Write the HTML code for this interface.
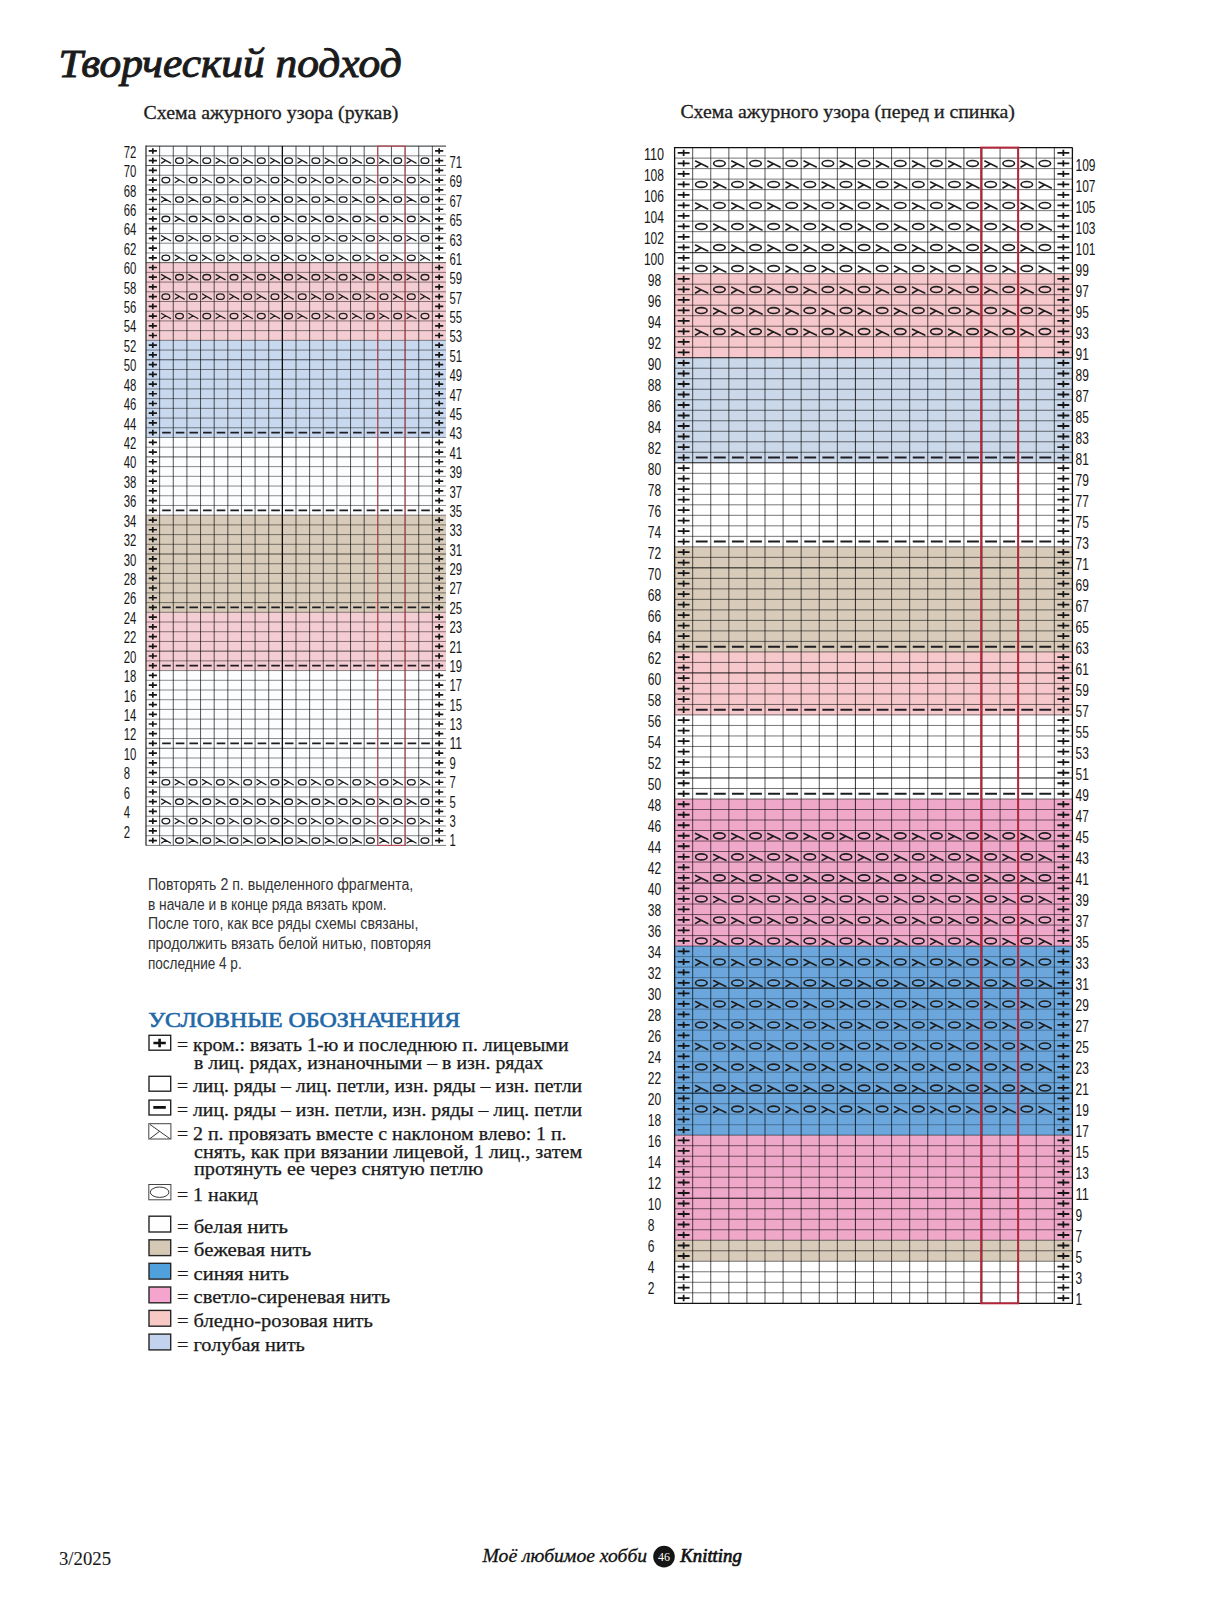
<!DOCTYPE html><html><head><meta charset="utf-8"><title>Творческий подход</title>
<style>html,body{margin:0;padding:0;background:#fff;}svg{display:block;}.sf{font-family:"Liberation Serif", "DejaVu Serif", serif;}.ss{font-family:"Liberation Sans", "DejaVu Sans", sans-serif;}</style></head><body>
<svg width="1211" height="1624" viewBox="0 0 1211 1624">
<rect width="1211" height="1624" fill="#fff"/>
<text class="sf" x="58.6" y="77.4" font-size="40" font-style="italic" fill="#1b1b1b" stroke="#1b1b1b" stroke-width="1.0" textLength="343" lengthAdjust="spacingAndGlyphs">Творческий подход</text>
<text class="sf" x="143.6" y="118.6" font-size="18.5" fill="#1e1e1e" stroke="#1e1e1e" stroke-width="0.3" textLength="254.8" lengthAdjust="spacingAndGlyphs">Схема ажурного узора (рукав)</text>
<text class="sf" x="680.4" y="118.4" font-size="18.5" fill="#1e1e1e" stroke="#1e1e1e" stroke-width="0.3" textLength="334.4" lengthAdjust="spacingAndGlyphs">Схема ажурного узора (перед и спинка)</text>
<rect x="159.64" y="146.1" width="272.73" height="116.55" fill="#fcfdff"/>
<rect x="146" y="262.65" width="300" height="77.7" fill="#f4cdd2"/>
<rect x="146" y="340.35" width="300" height="97.12" fill="#c8d8ee"/>
<rect x="159.64" y="437.47" width="272.73" height="77.7" fill="#fcfdff"/>
<rect x="146" y="515.17" width="300" height="97.12" fill="#d8cbba"/>
<rect x="146" y="612.3" width="300" height="58.27" fill="#f4cdd2"/>
<rect x="159.64" y="670.57" width="272.73" height="174.82" fill="#fcfdff"/>
<path d="M159.64 146.1V845.4M173.27 146.1V845.4M186.91 146.1V845.4M200.55 146.1V845.4M214.18 146.1V845.4M227.82 146.1V845.4M241.45 146.1V845.4M255.09 146.1V845.4M268.73 146.1V845.4M296 146.1V845.4M309.64 146.1V845.4M323.27 146.1V845.4M336.91 146.1V845.4M350.55 146.1V845.4M364.18 146.1V845.4M377.82 146.1V845.4M391.45 146.1V845.4M405.09 146.1V845.4M418.73 146.1V845.4M432.36 146.1V845.4" stroke="#000" stroke-opacity="0.78" stroke-width="0.85" fill="none"/>
<path d="M146 835.69H446M146 825.98H446M146 816.26H446M146 806.55H446M146 796.84H446M146 787.12H446M146 777.41H446M146 767.7H446M146 757.99H446M146 738.56H446M146 728.85H446M146 719.14H446M146 709.42H446M146 699.71H446M146 690H446M146 680.29H446M146 670.58H446M146 660.86H446M146 641.44H446M146 631.73H446M146 622.01H446M146 612.3H446M146 602.59H446M146 592.88H446M146 583.16H446M146 573.45H446M146 563.74H446M146 544.31H446M146 534.6H446M146 524.89H446M146 515.17H446M146 505.46H446M146 495.75H446M146 486.04H446M146 476.33H446M146 466.61H446M146 447.19H446M146 437.48H446M146 427.76H446M146 418.05H446M146 408.34H446M146 398.63H446M146 388.91H446M146 379.2H446M146 369.49H446M146 350.06H446M146 340.35H446M146 330.64H446M146 320.93H446M146 311.21H446M146 301.5H446M146 291.79H446M146 282.08H446M146 272.36H446M146 252.94H446M146 243.23H446M146 233.51H446M146 223.8H446M146 214.09H446M146 204.38H446M146 194.66H446M146 184.95H446M146 175.24H446M146 155.81H446" stroke="#000" stroke-opacity="0.58" stroke-width="0.8" fill="none"/>
<path d="M282.36 146.1V845.4" stroke="#000" stroke-opacity="0.95" stroke-width="1.3" fill="none"/>
<path d="M146 748.27H446M146 651.15H446M146 554.03H446M146 456.9H446M146 359.78H446M146 262.65H446M146 165.53H446" stroke="#000" stroke-opacity="0.72" stroke-width="0.9" fill="none"/>
<path d="M446 146.1H146" stroke="#000" stroke-opacity="0.68" stroke-width="1.1" fill="none"/>
<path d="M146 145.55V845.4" stroke="#222" stroke-width="1.2" fill="none"/>
<path d="M146 845.4H446" stroke="#000" stroke-opacity="0.6" stroke-width="0.9" fill="none"/>
<path d="M148.72 840.54h8.2M152.82 837.74v5.6M435.08 840.54h8.2M439.18 837.74v5.6M148.72 830.83h8.2M152.82 828.03v5.6M435.08 830.83h8.2M439.18 828.03v5.6M148.72 821.12h8.2M152.82 818.32v5.6M435.08 821.12h8.2M439.18 818.32v5.6M148.72 811.41h8.2M152.82 808.61v5.6M435.08 811.41h8.2M439.18 808.61v5.6M148.72 801.69h8.2M152.82 798.89v5.6M435.08 801.69h8.2M439.18 798.89v5.6M148.72 791.98h8.2M152.82 789.18v5.6M435.08 791.98h8.2M439.18 789.18v5.6M148.72 782.27h8.2M152.82 779.47v5.6M435.08 782.27h8.2M439.18 779.47v5.6M148.72 772.56h8.2M152.82 769.76v5.6M435.08 772.56h8.2M439.18 769.76v5.6M148.72 762.84h8.2M152.82 760.04v5.6M435.08 762.84h8.2M439.18 760.04v5.6M148.72 753.13h8.2M152.82 750.33v5.6M435.08 753.13h8.2M439.18 750.33v5.6M148.72 743.42h8.2M152.82 740.62v5.6M435.08 743.42h8.2M439.18 740.62v5.6M148.72 733.71h8.2M152.82 730.91v5.6M435.08 733.71h8.2M439.18 730.91v5.6M148.72 723.99h8.2M152.82 721.19v5.6M435.08 723.99h8.2M439.18 721.19v5.6M148.72 714.28h8.2M152.82 711.48v5.6M435.08 714.28h8.2M439.18 711.48v5.6M148.72 704.57h8.2M152.82 701.77v5.6M435.08 704.57h8.2M439.18 701.77v5.6M148.72 694.86h8.2M152.82 692.06v5.6M435.08 694.86h8.2M439.18 692.06v5.6M148.72 685.14h8.2M152.82 682.34v5.6M435.08 685.14h8.2M439.18 682.34v5.6M148.72 675.43h8.2M152.82 672.63v5.6M435.08 675.43h8.2M439.18 672.63v5.6M148.72 665.72h8.2M152.82 662.92v5.6M435.08 665.72h8.2M439.18 662.92v5.6M148.72 656.01h8.2M152.82 653.21v5.6M435.08 656.01h8.2M439.18 653.21v5.6M148.72 646.29h8.2M152.82 643.49v5.6M435.08 646.29h8.2M439.18 643.49v5.6M148.72 636.58h8.2M152.82 633.78v5.6M435.08 636.58h8.2M439.18 633.78v5.6M148.72 626.87h8.2M152.82 624.07v5.6M435.08 626.87h8.2M439.18 624.07v5.6M148.72 617.16h8.2M152.82 614.36v5.6M435.08 617.16h8.2M439.18 614.36v5.6M148.72 607.44h8.2M152.82 604.64v5.6M435.08 607.44h8.2M439.18 604.64v5.6M148.72 597.73h8.2M152.82 594.93v5.6M435.08 597.73h8.2M439.18 594.93v5.6M148.72 588.02h8.2M152.82 585.22v5.6M435.08 588.02h8.2M439.18 585.22v5.6M148.72 578.31h8.2M152.82 575.51v5.6M435.08 578.31h8.2M439.18 575.51v5.6M148.72 568.59h8.2M152.82 565.79v5.6M435.08 568.59h8.2M439.18 565.79v5.6M148.72 558.88h8.2M152.82 556.08v5.6M435.08 558.88h8.2M439.18 556.08v5.6M148.72 549.17h8.2M152.82 546.37v5.6M435.08 549.17h8.2M439.18 546.37v5.6M148.72 539.46h8.2M152.82 536.66v5.6M435.08 539.46h8.2M439.18 536.66v5.6M148.72 529.74h8.2M152.82 526.94v5.6M435.08 529.74h8.2M439.18 526.94v5.6M148.72 520.03h8.2M152.82 517.23v5.6M435.08 520.03h8.2M439.18 517.23v5.6M148.72 510.32h8.2M152.82 507.52v5.6M435.08 510.32h8.2M439.18 507.52v5.6M148.72 500.61h8.2M152.82 497.81v5.6M435.08 500.61h8.2M439.18 497.81v5.6M148.72 490.89h8.2M152.82 488.09v5.6M435.08 490.89h8.2M439.18 488.09v5.6M148.72 481.18h8.2M152.82 478.38v5.6M435.08 481.18h8.2M439.18 478.38v5.6M148.72 471.47h8.2M152.82 468.67v5.6M435.08 471.47h8.2M439.18 468.67v5.6M148.72 461.76h8.2M152.82 458.96v5.6M435.08 461.76h8.2M439.18 458.96v5.6M148.72 452.04h8.2M152.82 449.24v5.6M435.08 452.04h8.2M439.18 449.24v5.6M148.72 442.33h8.2M152.82 439.53v5.6M435.08 442.33h8.2M439.18 439.53v5.6M148.72 432.62h8.2M152.82 429.82v5.6M435.08 432.62h8.2M439.18 429.82v5.6M148.72 422.91h8.2M152.82 420.11v5.6M435.08 422.91h8.2M439.18 420.11v5.6M148.72 413.19h8.2M152.82 410.39v5.6M435.08 413.19h8.2M439.18 410.39v5.6M148.72 403.48h8.2M152.82 400.68v5.6M435.08 403.48h8.2M439.18 400.68v5.6M148.72 393.77h8.2M152.82 390.97v5.6M435.08 393.77h8.2M439.18 390.97v5.6M148.72 384.06h8.2M152.82 381.26v5.6M435.08 384.06h8.2M439.18 381.26v5.6M148.72 374.34h8.2M152.82 371.54v5.6M435.08 374.34h8.2M439.18 371.54v5.6M148.72 364.63h8.2M152.82 361.83v5.6M435.08 364.63h8.2M439.18 361.83v5.6M148.72 354.92h8.2M152.82 352.12v5.6M435.08 354.92h8.2M439.18 352.12v5.6M148.72 345.21h8.2M152.82 342.41v5.6M435.08 345.21h8.2M439.18 342.41v5.6M148.72 335.49h8.2M152.82 332.69v5.6M435.08 335.49h8.2M439.18 332.69v5.6M148.72 325.78h8.2M152.82 322.98v5.6M435.08 325.78h8.2M439.18 322.98v5.6M148.72 316.07h8.2M152.82 313.27v5.6M435.08 316.07h8.2M439.18 313.27v5.6M148.72 306.36h8.2M152.82 303.56v5.6M435.08 306.36h8.2M439.18 303.56v5.6M148.72 296.64h8.2M152.82 293.84v5.6M435.08 296.64h8.2M439.18 293.84v5.6M148.72 286.93h8.2M152.82 284.13v5.6M435.08 286.93h8.2M439.18 284.13v5.6M148.72 277.22h8.2M152.82 274.42v5.6M435.08 277.22h8.2M439.18 274.42v5.6M148.72 267.51h8.2M152.82 264.71v5.6M435.08 267.51h8.2M439.18 264.71v5.6M148.72 257.79h8.2M152.82 254.99v5.6M435.08 257.79h8.2M439.18 254.99v5.6M148.72 248.08h8.2M152.82 245.28v5.6M435.08 248.08h8.2M439.18 245.28v5.6M148.72 238.37h8.2M152.82 235.57v5.6M435.08 238.37h8.2M439.18 235.57v5.6M148.72 228.66h8.2M152.82 225.86v5.6M435.08 228.66h8.2M439.18 225.86v5.6M148.72 218.94h8.2M152.82 216.14v5.6M435.08 218.94h8.2M439.18 216.14v5.6M148.72 209.23h8.2M152.82 206.43v5.6M435.08 209.23h8.2M439.18 206.43v5.6M148.72 199.52h8.2M152.82 196.72v5.6M435.08 199.52h8.2M439.18 196.72v5.6M148.72 189.81h8.2M152.82 187.01v5.6M435.08 189.81h8.2M439.18 187.01v5.6M148.72 180.09h8.2M152.82 177.29v5.6M435.08 180.09h8.2M439.18 177.29v5.6M148.72 170.38h8.2M152.82 167.58v5.6M435.08 170.38h8.2M439.18 167.58v5.6M148.72 160.67h8.2M152.82 157.87v5.6M435.08 160.67h8.2M439.18 157.87v5.6M148.72 150.96h8.2M152.82 148.16v5.6M435.08 150.96h8.2M439.18 148.16v5.6" stroke="#161616" stroke-width="1.7" fill="none"/>
<path d="M162.15 743.42h8.6M175.79 743.42h8.6M189.43 743.42h8.6M203.06 743.42h8.6M216.7 743.42h8.6M230.34 743.42h8.6M243.97 743.42h8.6M257.61 743.42h8.6M271.25 743.42h8.6M284.88 743.42h8.6M298.52 743.42h8.6M312.15 743.42h8.6M325.79 743.42h8.6M339.43 743.42h8.6M353.06 743.42h8.6M366.7 743.42h8.6M380.34 743.42h8.6M393.97 743.42h8.6M407.61 743.42h8.6M421.25 743.42h8.6M162.15 665.72h8.6M175.79 665.72h8.6M189.43 665.72h8.6M203.06 665.72h8.6M216.7 665.72h8.6M230.34 665.72h8.6M243.97 665.72h8.6M257.61 665.72h8.6M271.25 665.72h8.6M284.88 665.72h8.6M298.52 665.72h8.6M312.15 665.72h8.6M325.79 665.72h8.6M339.43 665.72h8.6M353.06 665.72h8.6M366.7 665.72h8.6M380.34 665.72h8.6M393.97 665.72h8.6M407.61 665.72h8.6M421.25 665.72h8.6M162.15 607.44h8.6M175.79 607.44h8.6M189.43 607.44h8.6M203.06 607.44h8.6M216.7 607.44h8.6M230.34 607.44h8.6M243.97 607.44h8.6M257.61 607.44h8.6M271.25 607.44h8.6M284.88 607.44h8.6M298.52 607.44h8.6M312.15 607.44h8.6M325.79 607.44h8.6M339.43 607.44h8.6M353.06 607.44h8.6M366.7 607.44h8.6M380.34 607.44h8.6M393.97 607.44h8.6M407.61 607.44h8.6M421.25 607.44h8.6M162.15 510.32h8.6M175.79 510.32h8.6M189.43 510.32h8.6M203.06 510.32h8.6M216.7 510.32h8.6M230.34 510.32h8.6M243.97 510.32h8.6M257.61 510.32h8.6M271.25 510.32h8.6M284.88 510.32h8.6M298.52 510.32h8.6M312.15 510.32h8.6M325.79 510.32h8.6M339.43 510.32h8.6M353.06 510.32h8.6M366.7 510.32h8.6M380.34 510.32h8.6M393.97 510.32h8.6M407.61 510.32h8.6M421.25 510.32h8.6M162.15 432.62h8.6M175.79 432.62h8.6M189.43 432.62h8.6M203.06 432.62h8.6M216.7 432.62h8.6M230.34 432.62h8.6M243.97 432.62h8.6M257.61 432.62h8.6M271.25 432.62h8.6M284.88 432.62h8.6M298.52 432.62h8.6M312.15 432.62h8.6M325.79 432.62h8.6M339.43 432.62h8.6M353.06 432.62h8.6M366.7 432.62h8.6M380.34 432.62h8.6M393.97 432.62h8.6M407.61 432.62h8.6M421.25 432.62h8.6" stroke="#1c1c22" stroke-width="1.7" fill="none"/>
<path d="M161.55 837.92L170.55 842.97M165.78 840.3L161.55 842.97M188.82 837.92L197.82 842.97M193.05 840.3L188.82 842.97M216.09 837.92L225.09 842.97M220.32 840.3L216.09 842.97M243.36 837.92L252.36 842.97M247.59 840.3L243.36 842.97M270.64 837.92L279.64 842.97M274.87 840.3L270.64 842.97M297.91 837.92L306.91 842.97M302.14 840.3L297.91 842.97M325.18 837.92L334.18 842.97M329.41 840.3L325.18 842.97M352.45 837.92L361.45 842.97M356.68 840.3L352.45 842.97M379.73 837.92L388.73 842.97M383.96 840.3L379.73 842.97M407 837.92L416 842.97M411.23 840.3L407 842.97M175.18 818.5L184.18 823.55M179.41 820.87L175.18 823.55M202.45 818.5L211.45 823.55M206.68 820.87L202.45 823.55M229.73 818.5L238.73 823.55M233.96 820.87L229.73 823.55M257 818.5L266 823.55M261.23 820.87L257 823.55M284.27 818.5L293.27 823.55M288.5 820.87L284.27 823.55M311.55 818.5L320.55 823.55M315.78 820.87L311.55 823.55M338.82 818.5L347.82 823.55M343.05 820.87L338.82 823.55M366.09 818.5L375.09 823.55M370.32 820.87L366.09 823.55M393.36 818.5L402.36 823.55M397.59 820.87L393.36 823.55M420.64 818.5L429.64 823.55M424.87 820.87L420.64 823.55M161.55 799.07L170.55 804.12M165.78 801.45L161.55 804.12M188.82 799.07L197.82 804.12M193.05 801.45L188.82 804.12M216.09 799.07L225.09 804.12M220.32 801.45L216.09 804.12M243.36 799.07L252.36 804.12M247.59 801.45L243.36 804.12M270.64 799.07L279.64 804.12M274.87 801.45L270.64 804.12M297.91 799.07L306.91 804.12M302.14 801.45L297.91 804.12M325.18 799.07L334.18 804.12M329.41 801.45L325.18 804.12M352.45 799.07L361.45 804.12M356.68 801.45L352.45 804.12M379.73 799.07L388.73 804.12M383.96 801.45L379.73 804.12M407 799.07L416 804.12M411.23 801.45L407 804.12M175.18 779.65L184.18 784.7M179.41 782.02L175.18 784.7M202.45 779.65L211.45 784.7M206.68 782.02L202.45 784.7M229.73 779.65L238.73 784.7M233.96 782.02L229.73 784.7M257 779.65L266 784.7M261.23 782.02L257 784.7M284.27 779.65L293.27 784.7M288.5 782.02L284.27 784.7M311.55 779.65L320.55 784.7M315.78 782.02L311.55 784.7M338.82 779.65L347.82 784.7M343.05 782.02L338.82 784.7M366.09 779.65L375.09 784.7M370.32 782.02L366.09 784.7M393.36 779.65L402.36 784.7M397.59 782.02L393.36 784.7M420.64 779.65L429.64 784.7M424.87 782.02L420.64 784.7M161.55 313.45L170.55 318.5M165.78 315.82L161.55 318.5M188.82 313.45L197.82 318.5M193.05 315.82L188.82 318.5M216.09 313.45L225.09 318.5M220.32 315.82L216.09 318.5M243.36 313.45L252.36 318.5M247.59 315.82L243.36 318.5M270.64 313.45L279.64 318.5M274.87 315.82L270.64 318.5M297.91 313.45L306.91 318.5M302.14 315.82L297.91 318.5M325.18 313.45L334.18 318.5M329.41 315.82L325.18 318.5M352.45 313.45L361.45 318.5M356.68 315.82L352.45 318.5M379.73 313.45L388.73 318.5M383.96 315.82L379.73 318.5M407 313.45L416 318.5M411.23 315.82L407 318.5M175.18 294.02L184.18 299.07M179.41 296.4L175.18 299.07M202.45 294.02L211.45 299.07M206.68 296.4L202.45 299.07M229.73 294.02L238.73 299.07M233.96 296.4L229.73 299.07M257 294.02L266 299.07M261.23 296.4L257 299.07M284.27 294.02L293.27 299.07M288.5 296.4L284.27 299.07M311.55 294.02L320.55 299.07M315.78 296.4L311.55 299.07M338.82 294.02L347.82 299.07M343.05 296.4L338.82 299.07M366.09 294.02L375.09 299.07M370.32 296.4L366.09 299.07M393.36 294.02L402.36 299.07M397.59 296.4L393.36 299.07M420.64 294.02L429.64 299.07M424.87 296.4L420.64 299.07M161.55 274.6L170.55 279.65M165.78 276.97L161.55 279.65M188.82 274.6L197.82 279.65M193.05 276.97L188.82 279.65M216.09 274.6L225.09 279.65M220.32 276.97L216.09 279.65M243.36 274.6L252.36 279.65M247.59 276.97L243.36 279.65M270.64 274.6L279.64 279.65M274.87 276.97L270.64 279.65M297.91 274.6L306.91 279.65M302.14 276.97L297.91 279.65M325.18 274.6L334.18 279.65M329.41 276.97L325.18 279.65M352.45 274.6L361.45 279.65M356.68 276.97L352.45 279.65M379.73 274.6L388.73 279.65M383.96 276.97L379.73 279.65M407 274.6L416 279.65M411.23 276.97L407 279.65M175.18 255.17L184.18 260.22M179.41 257.55L175.18 260.22M202.45 255.17L211.45 260.22M206.68 257.55L202.45 260.22M229.73 255.17L238.73 260.22M233.96 257.55L229.73 260.22M257 255.17L266 260.22M261.23 257.55L257 260.22M284.27 255.17L293.27 260.22M288.5 257.55L284.27 260.22M311.55 255.17L320.55 260.22M315.78 257.55L311.55 260.22M338.82 255.17L347.82 260.22M343.05 257.55L338.82 260.22M366.09 255.17L375.09 260.22M370.32 257.55L366.09 260.22M393.36 255.17L402.36 260.22M397.59 257.55L393.36 260.22M420.64 255.17L429.64 260.22M424.87 257.55L420.64 260.22M161.55 235.75L170.55 240.8M165.78 238.12L161.55 240.8M188.82 235.75L197.82 240.8M193.05 238.12L188.82 240.8M216.09 235.75L225.09 240.8M220.32 238.12L216.09 240.8M243.36 235.75L252.36 240.8M247.59 238.12L243.36 240.8M270.64 235.75L279.64 240.8M274.87 238.12L270.64 240.8M297.91 235.75L306.91 240.8M302.14 238.12L297.91 240.8M325.18 235.75L334.18 240.8M329.41 238.12L325.18 240.8M352.45 235.75L361.45 240.8M356.68 238.12L352.45 240.8M379.73 235.75L388.73 240.8M383.96 238.12L379.73 240.8M407 235.75L416 240.8M411.23 238.12L407 240.8M175.18 216.32L184.18 221.37M179.41 218.7L175.18 221.37M202.45 216.32L211.45 221.37M206.68 218.7L202.45 221.37M229.73 216.32L238.73 221.37M233.96 218.7L229.73 221.37M257 216.32L266 221.37M261.23 218.7L257 221.37M284.27 216.32L293.27 221.37M288.5 218.7L284.27 221.37M311.55 216.32L320.55 221.37M315.78 218.7L311.55 221.37M338.82 216.32L347.82 221.37M343.05 218.7L338.82 221.37M366.09 216.32L375.09 221.37M370.32 218.7L366.09 221.37M393.36 216.32L402.36 221.37M397.59 218.7L393.36 221.37M420.64 216.32L429.64 221.37M424.87 218.7L420.64 221.37M161.55 196.9L170.55 201.95M165.78 199.27L161.55 201.95M188.82 196.9L197.82 201.95M193.05 199.27L188.82 201.95M216.09 196.9L225.09 201.95M220.32 199.27L216.09 201.95M243.36 196.9L252.36 201.95M247.59 199.27L243.36 201.95M270.64 196.9L279.64 201.95M274.87 199.27L270.64 201.95M297.91 196.9L306.91 201.95M302.14 199.27L297.91 201.95M325.18 196.9L334.18 201.95M329.41 199.27L325.18 201.95M352.45 196.9L361.45 201.95M356.68 199.27L352.45 201.95M379.73 196.9L388.73 201.95M383.96 199.27L379.73 201.95M407 196.9L416 201.95M411.23 199.27L407 201.95M175.18 177.47L184.18 182.52M179.41 179.85L175.18 182.52M202.45 177.47L211.45 182.52M206.68 179.85L202.45 182.52M229.73 177.47L238.73 182.52M233.96 179.85L229.73 182.52M257 177.47L266 182.52M261.23 179.85L257 182.52M284.27 177.47L293.27 182.52M288.5 179.85L284.27 182.52M311.55 177.47L320.55 182.52M315.78 179.85L311.55 182.52M338.82 177.47L347.82 182.52M343.05 179.85L338.82 182.52M366.09 177.47L375.09 182.52M370.32 179.85L366.09 182.52M393.36 177.47L402.36 182.52M397.59 179.85L393.36 182.52M420.64 177.47L429.64 182.52M424.87 179.85L420.64 182.52M161.55 158.05L170.55 163.1M165.78 160.42L161.55 163.1M188.82 158.05L197.82 163.1M193.05 160.42L188.82 163.1M216.09 158.05L225.09 163.1M220.32 160.42L216.09 163.1M243.36 158.05L252.36 163.1M247.59 160.42L243.36 163.1M270.64 158.05L279.64 163.1M274.87 160.42L270.64 163.1M297.91 158.05L306.91 163.1M302.14 160.42L297.91 163.1M325.18 158.05L334.18 163.1M329.41 160.42L325.18 163.1M352.45 158.05L361.45 163.1M356.68 160.42L352.45 163.1M379.73 158.05L388.73 163.1M383.96 160.42L379.73 163.1M407 158.05L416 163.1M411.23 160.42L407 163.1" stroke="#1e1e1e" stroke-width="1.3" fill="none" stroke-linecap="round"/>
<g stroke="#1e1e1e" stroke-width="1.3" fill="none"><ellipse cx="179.49" cy="840.54" rx="3.9" ry="2.7"/><ellipse cx="206.76" cy="840.54" rx="3.9" ry="2.7"/><ellipse cx="234.04" cy="840.54" rx="3.9" ry="2.7"/><ellipse cx="261.31" cy="840.54" rx="3.9" ry="2.7"/><ellipse cx="288.58" cy="840.54" rx="3.9" ry="2.7"/><ellipse cx="315.85" cy="840.54" rx="3.9" ry="2.7"/><ellipse cx="343.13" cy="840.54" rx="3.9" ry="2.7"/><ellipse cx="370.4" cy="840.54" rx="3.9" ry="2.7"/><ellipse cx="397.67" cy="840.54" rx="3.9" ry="2.7"/><ellipse cx="424.95" cy="840.54" rx="3.9" ry="2.7"/><ellipse cx="165.85" cy="821.12" rx="3.9" ry="2.7"/><ellipse cx="193.13" cy="821.12" rx="3.9" ry="2.7"/><ellipse cx="220.4" cy="821.12" rx="3.9" ry="2.7"/><ellipse cx="247.67" cy="821.12" rx="3.9" ry="2.7"/><ellipse cx="274.95" cy="821.12" rx="3.9" ry="2.7"/><ellipse cx="302.22" cy="821.12" rx="3.9" ry="2.7"/><ellipse cx="329.49" cy="821.12" rx="3.9" ry="2.7"/><ellipse cx="356.76" cy="821.12" rx="3.9" ry="2.7"/><ellipse cx="384.04" cy="821.12" rx="3.9" ry="2.7"/><ellipse cx="411.31" cy="821.12" rx="3.9" ry="2.7"/><ellipse cx="179.49" cy="801.69" rx="3.9" ry="2.7"/><ellipse cx="206.76" cy="801.69" rx="3.9" ry="2.7"/><ellipse cx="234.04" cy="801.69" rx="3.9" ry="2.7"/><ellipse cx="261.31" cy="801.69" rx="3.9" ry="2.7"/><ellipse cx="288.58" cy="801.69" rx="3.9" ry="2.7"/><ellipse cx="315.85" cy="801.69" rx="3.9" ry="2.7"/><ellipse cx="343.13" cy="801.69" rx="3.9" ry="2.7"/><ellipse cx="370.4" cy="801.69" rx="3.9" ry="2.7"/><ellipse cx="397.67" cy="801.69" rx="3.9" ry="2.7"/><ellipse cx="424.95" cy="801.69" rx="3.9" ry="2.7"/><ellipse cx="165.85" cy="782.27" rx="3.9" ry="2.7"/><ellipse cx="193.13" cy="782.27" rx="3.9" ry="2.7"/><ellipse cx="220.4" cy="782.27" rx="3.9" ry="2.7"/><ellipse cx="247.67" cy="782.27" rx="3.9" ry="2.7"/><ellipse cx="274.95" cy="782.27" rx="3.9" ry="2.7"/><ellipse cx="302.22" cy="782.27" rx="3.9" ry="2.7"/><ellipse cx="329.49" cy="782.27" rx="3.9" ry="2.7"/><ellipse cx="356.76" cy="782.27" rx="3.9" ry="2.7"/><ellipse cx="384.04" cy="782.27" rx="3.9" ry="2.7"/><ellipse cx="411.31" cy="782.27" rx="3.9" ry="2.7"/><ellipse cx="179.49" cy="316.07" rx="3.9" ry="2.7"/><ellipse cx="206.76" cy="316.07" rx="3.9" ry="2.7"/><ellipse cx="234.04" cy="316.07" rx="3.9" ry="2.7"/><ellipse cx="261.31" cy="316.07" rx="3.9" ry="2.7"/><ellipse cx="288.58" cy="316.07" rx="3.9" ry="2.7"/><ellipse cx="315.85" cy="316.07" rx="3.9" ry="2.7"/><ellipse cx="343.13" cy="316.07" rx="3.9" ry="2.7"/><ellipse cx="370.4" cy="316.07" rx="3.9" ry="2.7"/><ellipse cx="397.67" cy="316.07" rx="3.9" ry="2.7"/><ellipse cx="424.95" cy="316.07" rx="3.9" ry="2.7"/><ellipse cx="165.85" cy="296.64" rx="3.9" ry="2.7"/><ellipse cx="193.13" cy="296.64" rx="3.9" ry="2.7"/><ellipse cx="220.4" cy="296.64" rx="3.9" ry="2.7"/><ellipse cx="247.67" cy="296.64" rx="3.9" ry="2.7"/><ellipse cx="274.95" cy="296.64" rx="3.9" ry="2.7"/><ellipse cx="302.22" cy="296.64" rx="3.9" ry="2.7"/><ellipse cx="329.49" cy="296.64" rx="3.9" ry="2.7"/><ellipse cx="356.76" cy="296.64" rx="3.9" ry="2.7"/><ellipse cx="384.04" cy="296.64" rx="3.9" ry="2.7"/><ellipse cx="411.31" cy="296.64" rx="3.9" ry="2.7"/><ellipse cx="179.49" cy="277.22" rx="3.9" ry="2.7"/><ellipse cx="206.76" cy="277.22" rx="3.9" ry="2.7"/><ellipse cx="234.04" cy="277.22" rx="3.9" ry="2.7"/><ellipse cx="261.31" cy="277.22" rx="3.9" ry="2.7"/><ellipse cx="288.58" cy="277.22" rx="3.9" ry="2.7"/><ellipse cx="315.85" cy="277.22" rx="3.9" ry="2.7"/><ellipse cx="343.13" cy="277.22" rx="3.9" ry="2.7"/><ellipse cx="370.4" cy="277.22" rx="3.9" ry="2.7"/><ellipse cx="397.67" cy="277.22" rx="3.9" ry="2.7"/><ellipse cx="424.95" cy="277.22" rx="3.9" ry="2.7"/><ellipse cx="165.85" cy="257.79" rx="3.9" ry="2.7"/><ellipse cx="193.13" cy="257.79" rx="3.9" ry="2.7"/><ellipse cx="220.4" cy="257.79" rx="3.9" ry="2.7"/><ellipse cx="247.67" cy="257.79" rx="3.9" ry="2.7"/><ellipse cx="274.95" cy="257.79" rx="3.9" ry="2.7"/><ellipse cx="302.22" cy="257.79" rx="3.9" ry="2.7"/><ellipse cx="329.49" cy="257.79" rx="3.9" ry="2.7"/><ellipse cx="356.76" cy="257.79" rx="3.9" ry="2.7"/><ellipse cx="384.04" cy="257.79" rx="3.9" ry="2.7"/><ellipse cx="411.31" cy="257.79" rx="3.9" ry="2.7"/><ellipse cx="179.49" cy="238.37" rx="3.9" ry="2.7"/><ellipse cx="206.76" cy="238.37" rx="3.9" ry="2.7"/><ellipse cx="234.04" cy="238.37" rx="3.9" ry="2.7"/><ellipse cx="261.31" cy="238.37" rx="3.9" ry="2.7"/><ellipse cx="288.58" cy="238.37" rx="3.9" ry="2.7"/><ellipse cx="315.85" cy="238.37" rx="3.9" ry="2.7"/><ellipse cx="343.13" cy="238.37" rx="3.9" ry="2.7"/><ellipse cx="370.4" cy="238.37" rx="3.9" ry="2.7"/><ellipse cx="397.67" cy="238.37" rx="3.9" ry="2.7"/><ellipse cx="424.95" cy="238.37" rx="3.9" ry="2.7"/><ellipse cx="165.85" cy="218.94" rx="3.9" ry="2.7"/><ellipse cx="193.13" cy="218.94" rx="3.9" ry="2.7"/><ellipse cx="220.4" cy="218.94" rx="3.9" ry="2.7"/><ellipse cx="247.67" cy="218.94" rx="3.9" ry="2.7"/><ellipse cx="274.95" cy="218.94" rx="3.9" ry="2.7"/><ellipse cx="302.22" cy="218.94" rx="3.9" ry="2.7"/><ellipse cx="329.49" cy="218.94" rx="3.9" ry="2.7"/><ellipse cx="356.76" cy="218.94" rx="3.9" ry="2.7"/><ellipse cx="384.04" cy="218.94" rx="3.9" ry="2.7"/><ellipse cx="411.31" cy="218.94" rx="3.9" ry="2.7"/><ellipse cx="179.49" cy="199.52" rx="3.9" ry="2.7"/><ellipse cx="206.76" cy="199.52" rx="3.9" ry="2.7"/><ellipse cx="234.04" cy="199.52" rx="3.9" ry="2.7"/><ellipse cx="261.31" cy="199.52" rx="3.9" ry="2.7"/><ellipse cx="288.58" cy="199.52" rx="3.9" ry="2.7"/><ellipse cx="315.85" cy="199.52" rx="3.9" ry="2.7"/><ellipse cx="343.13" cy="199.52" rx="3.9" ry="2.7"/><ellipse cx="370.4" cy="199.52" rx="3.9" ry="2.7"/><ellipse cx="397.67" cy="199.52" rx="3.9" ry="2.7"/><ellipse cx="424.95" cy="199.52" rx="3.9" ry="2.7"/><ellipse cx="165.85" cy="180.09" rx="3.9" ry="2.7"/><ellipse cx="193.13" cy="180.09" rx="3.9" ry="2.7"/><ellipse cx="220.4" cy="180.09" rx="3.9" ry="2.7"/><ellipse cx="247.67" cy="180.09" rx="3.9" ry="2.7"/><ellipse cx="274.95" cy="180.09" rx="3.9" ry="2.7"/><ellipse cx="302.22" cy="180.09" rx="3.9" ry="2.7"/><ellipse cx="329.49" cy="180.09" rx="3.9" ry="2.7"/><ellipse cx="356.76" cy="180.09" rx="3.9" ry="2.7"/><ellipse cx="384.04" cy="180.09" rx="3.9" ry="2.7"/><ellipse cx="411.31" cy="180.09" rx="3.9" ry="2.7"/><ellipse cx="179.49" cy="160.67" rx="3.9" ry="2.7"/><ellipse cx="206.76" cy="160.67" rx="3.9" ry="2.7"/><ellipse cx="234.04" cy="160.67" rx="3.9" ry="2.7"/><ellipse cx="261.31" cy="160.67" rx="3.9" ry="2.7"/><ellipse cx="288.58" cy="160.67" rx="3.9" ry="2.7"/><ellipse cx="315.85" cy="160.67" rx="3.9" ry="2.7"/><ellipse cx="343.13" cy="160.67" rx="3.9" ry="2.7"/><ellipse cx="370.4" cy="160.67" rx="3.9" ry="2.7"/><ellipse cx="397.67" cy="160.67" rx="3.9" ry="2.7"/><ellipse cx="424.95" cy="160.67" rx="3.9" ry="2.7"/></g>
<rect x="377.62" y="146.1" width="27.47" height="699.3" fill="none" stroke="#c24852" stroke-width="1.0"/>
<rect x="692.68" y="147.6" width="361.64" height="126.08" fill="#ffffff"/>
<rect x="674.6" y="273.68" width="397.8" height="84.05" fill="#f6c8cc"/>
<rect x="674.6" y="357.73" width="397.8" height="105.06" fill="#cad8ea"/>
<rect x="692.68" y="462.79" width="361.64" height="84.05" fill="#ffffff"/>
<rect x="674.6" y="546.84" width="397.8" height="105.06" fill="#d8cbba"/>
<rect x="674.6" y="651.91" width="397.8" height="63.04" fill="#f6c8cc"/>
<rect x="692.68" y="714.94" width="361.64" height="84.05" fill="#ffffff"/>
<rect x="674.6" y="798.99" width="397.8" height="147.09" fill="#f0a8ca"/>
<rect x="674.6" y="946.08" width="397.8" height="189.11" fill="#6ba6dc"/>
<rect x="674.6" y="1135.2" width="397.8" height="105.06" fill="#f0a8ca"/>
<rect x="674.6" y="1240.26" width="397.8" height="21.01" fill="#d8cbba"/>
<rect x="692.68" y="1261.27" width="361.64" height="42.03" fill="#ffffff"/>
<path d="M692.68 147.6V1303.3M710.76 147.6V1303.3M728.85 147.6V1303.3M746.93 147.6V1303.3M765.01 147.6V1303.3M783.09 147.6V1303.3M801.17 147.6V1303.3M819.25 147.6V1303.3M837.34 147.6V1303.3M873.5 147.6V1303.3M891.58 147.6V1303.3M909.66 147.6V1303.3M927.75 147.6V1303.3M945.83 147.6V1303.3M963.91 147.6V1303.3M981.99 147.6V1303.3M1000.07 147.6V1303.3M1018.15 147.6V1303.3M1036.24 147.6V1303.3M1054.32 147.6V1303.3" stroke="#000" stroke-opacity="0.8" stroke-width="0.85" fill="none"/>
<path d="M674.6 1292.79H1072.4M674.6 1282.29H1072.4M674.6 1271.78H1072.4M674.6 1261.27H1072.4M674.6 1250.77H1072.4M674.6 1240.26H1072.4M674.6 1229.76H1072.4M674.6 1219.25H1072.4M674.6 1208.74H1072.4M674.6 1187.73H1072.4M674.6 1177.22H1072.4M674.6 1166.72H1072.4M674.6 1156.21H1072.4M674.6 1145.7H1072.4M674.6 1135.2H1072.4M674.6 946.08H1072.4M674.6 935.58H1072.4M674.6 925.07H1072.4M674.6 914.56H1072.4M674.6 904.06H1072.4M674.6 893.55H1072.4M674.6 872.54H1072.4M674.6 862.03H1072.4M674.6 851.53H1072.4M674.6 841.02H1072.4M674.6 830.51H1072.4M674.6 820.01H1072.4M674.6 809.5H1072.4M674.6 798.99H1072.4M674.6 788.49H1072.4M674.6 767.48H1072.4M674.6 756.97H1072.4M674.6 746.46H1072.4M674.6 735.96H1072.4M674.6 725.45H1072.4M674.6 714.94H1072.4M674.6 704.44H1072.4M674.6 693.93H1072.4M674.6 683.42H1072.4M674.6 662.41H1072.4M674.6 651.91H1072.4M674.6 641.4H1072.4M674.6 630.89H1072.4M674.6 620.39H1072.4M674.6 609.88H1072.4M674.6 599.37H1072.4M674.6 588.87H1072.4M674.6 578.36H1072.4M674.6 557.35H1072.4M674.6 546.84H1072.4M674.6 536.34H1072.4M674.6 525.83H1072.4M674.6 515.32H1072.4M674.6 504.82H1072.4M674.6 494.31H1072.4M674.6 483.8H1072.4M674.6 473.3H1072.4M674.6 452.28H1072.4M674.6 441.78H1072.4M674.6 431.27H1072.4M674.6 420.77H1072.4M674.6 410.26H1072.4M674.6 399.75H1072.4M674.6 389.25H1072.4M674.6 378.74H1072.4M674.6 368.23H1072.4M674.6 347.22H1072.4M674.6 336.71H1072.4M674.6 326.21H1072.4M674.6 315.7H1072.4M674.6 305.2H1072.4M674.6 294.69H1072.4M674.6 284.18H1072.4M674.6 273.68H1072.4M674.6 263.17H1072.4M674.6 242.16H1072.4M674.6 231.65H1072.4M674.6 221.14H1072.4M674.6 210.64H1072.4M674.6 200.13H1072.4M674.6 189.63H1072.4M674.6 179.12H1072.4M674.6 168.61H1072.4M674.6 158.11H1072.4" stroke="#000" stroke-opacity="0.68" stroke-width="0.8" fill="none"/>
<path d="M674.6 1124.69H1072.4M674.6 1114.19H1072.4M674.6 1103.68H1072.4M674.6 1082.67H1072.4M674.6 1072.16H1072.4M674.6 1061.65H1072.4M674.6 1051.15H1072.4M674.6 1040.64H1072.4M674.6 1030.13H1072.4M674.6 1019.63H1072.4M674.6 1009.12H1072.4M674.6 998.62H1072.4M674.6 977.6H1072.4M674.6 967.1H1072.4M674.6 956.59H1072.4" stroke="#000" stroke-opacity="0.4" stroke-width="0.8" fill="none"/>
<path d="M855.42 147.6V1303.3" stroke="#000" stroke-opacity="0.82" stroke-width="1.0" fill="none"/>
<path d="M674.6 1198.24H1072.4M674.6 1093.17H1072.4M674.6 988.11H1072.4M674.6 883.05H1072.4M674.6 777.98H1072.4M674.6 672.92H1072.4M674.6 567.85H1072.4M674.6 462.79H1072.4M674.6 357.73H1072.4M674.6 252.66H1072.4" stroke="#000" stroke-opacity="0.9" stroke-width="1.0" fill="none"/>
<path d="M1072.4 147.6H674.6V1303.3H1072.4V147.6" stroke="#111" stroke-width="1.3" fill="none"/>
<path d="M677.69 1298.05h11.9M683.64 1294.85v6.4M1057.41 1298.05h11.9M1063.36 1294.85v6.4M677.69 1287.54h11.9M683.64 1284.34v6.4M1057.41 1287.54h11.9M1063.36 1284.34v6.4M677.69 1277.03h11.9M683.64 1273.83v6.4M1057.41 1277.03h11.9M1063.36 1273.83v6.4M677.69 1266.53h11.9M683.64 1263.33v6.4M1057.41 1266.53h11.9M1063.36 1263.33v6.4M677.69 1256.02h11.9M683.64 1252.82v6.4M1057.41 1256.02h11.9M1063.36 1252.82v6.4M677.69 1245.51h11.9M683.64 1242.31v6.4M1057.41 1245.51h11.9M1063.36 1242.31v6.4M677.69 1235.01h11.9M683.64 1231.81v6.4M1057.41 1235.01h11.9M1063.36 1231.81v6.4M677.69 1224.5h11.9M683.64 1221.3v6.4M1057.41 1224.5h11.9M1063.36 1221.3v6.4M677.69 1214h11.9M683.64 1210.8v6.4M1057.41 1214h11.9M1063.36 1210.8v6.4M677.69 1203.49h11.9M683.64 1200.29v6.4M1057.41 1203.49h11.9M1063.36 1200.29v6.4M677.69 1192.98h11.9M683.64 1189.78v6.4M1057.41 1192.98h11.9M1063.36 1189.78v6.4M677.69 1182.48h11.9M683.64 1179.28v6.4M1057.41 1182.48h11.9M1063.36 1179.28v6.4M677.69 1171.97h11.9M683.64 1168.77v6.4M1057.41 1171.97h11.9M1063.36 1168.77v6.4M677.69 1161.46h11.9M683.64 1158.26v6.4M1057.41 1161.46h11.9M1063.36 1158.26v6.4M677.69 1150.96h11.9M683.64 1147.76v6.4M1057.41 1150.96h11.9M1063.36 1147.76v6.4M677.69 1140.45h11.9M683.64 1137.25v6.4M1057.41 1140.45h11.9M1063.36 1137.25v6.4M677.69 1129.94h11.9M683.64 1126.74v6.4M1057.41 1129.94h11.9M1063.36 1126.74v6.4M677.69 1119.44h11.9M683.64 1116.24v6.4M1057.41 1119.44h11.9M1063.36 1116.24v6.4M677.69 1108.93h11.9M683.64 1105.73v6.4M1057.41 1108.93h11.9M1063.36 1105.73v6.4M677.69 1098.43h11.9M683.64 1095.23v6.4M1057.41 1098.43h11.9M1063.36 1095.23v6.4M677.69 1087.92h11.9M683.64 1084.72v6.4M1057.41 1087.92h11.9M1063.36 1084.72v6.4M677.69 1077.41h11.9M683.64 1074.21v6.4M1057.41 1077.41h11.9M1063.36 1074.21v6.4M677.69 1066.91h11.9M683.64 1063.71v6.4M1057.41 1066.91h11.9M1063.36 1063.71v6.4M677.69 1056.4h11.9M683.64 1053.2v6.4M1057.41 1056.4h11.9M1063.36 1053.2v6.4M677.69 1045.89h11.9M683.64 1042.69v6.4M1057.41 1045.89h11.9M1063.36 1042.69v6.4M677.69 1035.39h11.9M683.64 1032.19v6.4M1057.41 1035.39h11.9M1063.36 1032.19v6.4M677.69 1024.88h11.9M683.64 1021.68v6.4M1057.41 1024.88h11.9M1063.36 1021.68v6.4M677.69 1014.38h11.9M683.64 1011.17v6.4M1057.41 1014.38h11.9M1063.36 1011.17v6.4M677.69 1003.87h11.9M683.64 1000.67v6.4M1057.41 1003.87h11.9M1063.36 1000.67v6.4M677.69 993.36h11.9M683.64 990.16v6.4M1057.41 993.36h11.9M1063.36 990.16v6.4M677.69 982.86h11.9M683.64 979.66v6.4M1057.41 982.86h11.9M1063.36 979.66v6.4M677.69 972.35h11.9M683.64 969.15v6.4M1057.41 972.35h11.9M1063.36 969.15v6.4M677.69 961.84h11.9M683.64 958.64v6.4M1057.41 961.84h11.9M1063.36 958.64v6.4M677.69 951.34h11.9M683.64 948.14v6.4M1057.41 951.34h11.9M1063.36 948.14v6.4M677.69 940.83h11.9M683.64 937.63v6.4M1057.41 940.83h11.9M1063.36 937.63v6.4M677.69 930.32h11.9M683.64 927.12v6.4M1057.41 930.32h11.9M1063.36 927.12v6.4M677.69 919.82h11.9M683.64 916.62v6.4M1057.41 919.82h11.9M1063.36 916.62v6.4M677.69 909.31h11.9M683.64 906.11v6.4M1057.41 909.31h11.9M1063.36 906.11v6.4M677.69 898.8h11.9M683.64 895.6v6.4M1057.41 898.8h11.9M1063.36 895.6v6.4M677.69 888.3h11.9M683.64 885.1v6.4M1057.41 888.3h11.9M1063.36 885.1v6.4M677.69 877.79h11.9M683.64 874.59v6.4M1057.41 877.79h11.9M1063.36 874.59v6.4M677.69 867.29h11.9M683.64 864.09v6.4M1057.41 867.29h11.9M1063.36 864.09v6.4M677.69 856.78h11.9M683.64 853.58v6.4M1057.41 856.78h11.9M1063.36 853.58v6.4M677.69 846.27h11.9M683.64 843.07v6.4M1057.41 846.27h11.9M1063.36 843.07v6.4M677.69 835.77h11.9M683.64 832.57v6.4M1057.41 835.77h11.9M1063.36 832.57v6.4M677.69 825.26h11.9M683.64 822.06v6.4M1057.41 825.26h11.9M1063.36 822.06v6.4M677.69 814.75h11.9M683.64 811.55v6.4M1057.41 814.75h11.9M1063.36 811.55v6.4M677.69 804.25h11.9M683.64 801.05v6.4M1057.41 804.25h11.9M1063.36 801.05v6.4M677.69 793.74h11.9M683.64 790.54v6.4M1057.41 793.74h11.9M1063.36 790.54v6.4M677.69 783.24h11.9M683.64 780.03v6.4M1057.41 783.24h11.9M1063.36 780.03v6.4M677.69 772.73h11.9M683.64 769.53v6.4M1057.41 772.73h11.9M1063.36 769.53v6.4M677.69 762.22h11.9M683.64 759.02v6.4M1057.41 762.22h11.9M1063.36 759.02v6.4M677.69 751.72h11.9M683.64 748.52v6.4M1057.41 751.72h11.9M1063.36 748.52v6.4M677.69 741.21h11.9M683.64 738.01v6.4M1057.41 741.21h11.9M1063.36 738.01v6.4M677.69 730.7h11.9M683.64 727.5v6.4M1057.41 730.7h11.9M1063.36 727.5v6.4M677.69 720.2h11.9M683.64 717v6.4M1057.41 720.2h11.9M1063.36 717v6.4M677.69 709.69h11.9M683.64 706.49v6.4M1057.41 709.69h11.9M1063.36 706.49v6.4M677.69 699.18h11.9M683.64 695.98v6.4M1057.41 699.18h11.9M1063.36 695.98v6.4M677.69 688.68h11.9M683.64 685.48v6.4M1057.41 688.68h11.9M1063.36 685.48v6.4M677.69 678.17h11.9M683.64 674.97v6.4M1057.41 678.17h11.9M1063.36 674.97v6.4M677.69 667.66h11.9M683.64 664.46v6.4M1057.41 667.66h11.9M1063.36 664.46v6.4M677.69 657.16h11.9M683.64 653.96v6.4M1057.41 657.16h11.9M1063.36 653.96v6.4M677.69 646.65h11.9M683.64 643.45v6.4M1057.41 646.65h11.9M1063.36 643.45v6.4M677.69 636.15h11.9M683.64 632.95v6.4M1057.41 636.15h11.9M1063.36 632.95v6.4M677.69 625.64h11.9M683.64 622.44v6.4M1057.41 625.64h11.9M1063.36 622.44v6.4M677.69 615.13h11.9M683.64 611.93v6.4M1057.41 615.13h11.9M1063.36 611.93v6.4M677.69 604.63h11.9M683.64 601.43v6.4M1057.41 604.63h11.9M1063.36 601.43v6.4M677.69 594.12h11.9M683.64 590.92v6.4M1057.41 594.12h11.9M1063.36 590.92v6.4M677.69 583.61h11.9M683.64 580.41v6.4M1057.41 583.61h11.9M1063.36 580.41v6.4M677.69 573.11h11.9M683.64 569.91v6.4M1057.41 573.11h11.9M1063.36 569.91v6.4M677.69 562.6h11.9M683.64 559.4v6.4M1057.41 562.6h11.9M1063.36 559.4v6.4M677.69 552.1h11.9M683.64 548.89v6.4M1057.41 552.1h11.9M1063.36 548.89v6.4M677.69 541.59h11.9M683.64 538.39v6.4M1057.41 541.59h11.9M1063.36 538.39v6.4M677.69 531.08h11.9M683.64 527.88v6.4M1057.41 531.08h11.9M1063.36 527.88v6.4M677.69 520.58h11.9M683.64 517.38v6.4M1057.41 520.58h11.9M1063.36 517.38v6.4M677.69 510.07h11.9M683.64 506.87v6.4M1057.41 510.07h11.9M1063.36 506.87v6.4M677.69 499.56h11.9M683.64 496.36v6.4M1057.41 499.56h11.9M1063.36 496.36v6.4M677.69 489.06h11.9M683.64 485.86v6.4M1057.41 489.06h11.9M1063.36 485.86v6.4M677.69 478.55h11.9M683.64 475.35v6.4M1057.41 478.55h11.9M1063.36 475.35v6.4M677.69 468.04h11.9M683.64 464.84v6.4M1057.41 468.04h11.9M1063.36 464.84v6.4M677.69 457.54h11.9M683.64 454.34v6.4M1057.41 457.54h11.9M1063.36 454.34v6.4M677.69 447.03h11.9M683.64 443.83v6.4M1057.41 447.03h11.9M1063.36 443.83v6.4M677.69 436.52h11.9M683.64 433.32v6.4M1057.41 436.52h11.9M1063.36 433.32v6.4M677.69 426.02h11.9M683.64 422.82v6.4M1057.41 426.02h11.9M1063.36 422.82v6.4M677.69 415.51h11.9M683.64 412.31v6.4M1057.41 415.51h11.9M1063.36 412.31v6.4M677.69 405.01h11.9M683.64 401.81v6.4M1057.41 405.01h11.9M1063.36 401.81v6.4M677.69 394.5h11.9M683.64 391.3v6.4M1057.41 394.5h11.9M1063.36 391.3v6.4M677.69 383.99h11.9M683.64 380.79v6.4M1057.41 383.99h11.9M1063.36 380.79v6.4M677.69 373.49h11.9M683.64 370.29v6.4M1057.41 373.49h11.9M1063.36 370.29v6.4M677.69 362.98h11.9M683.64 359.78v6.4M1057.41 362.98h11.9M1063.36 359.78v6.4M677.69 352.47h11.9M683.64 349.27v6.4M1057.41 352.47h11.9M1063.36 349.27v6.4M677.69 341.97h11.9M683.64 338.77v6.4M1057.41 341.97h11.9M1063.36 338.77v6.4M677.69 331.46h11.9M683.64 328.26v6.4M1057.41 331.46h11.9M1063.36 328.26v6.4M677.69 320.95h11.9M683.64 317.75v6.4M1057.41 320.95h11.9M1063.36 317.75v6.4M677.69 310.45h11.9M683.64 307.25v6.4M1057.41 310.45h11.9M1063.36 307.25v6.4M677.69 299.94h11.9M683.64 296.74v6.4M1057.41 299.94h11.9M1063.36 296.74v6.4M677.69 289.44h11.9M683.64 286.24v6.4M1057.41 289.44h11.9M1063.36 286.24v6.4M677.69 278.93h11.9M683.64 275.73v6.4M1057.41 278.93h11.9M1063.36 275.73v6.4M677.69 268.42h11.9M683.64 265.22v6.4M1057.41 268.42h11.9M1063.36 265.22v6.4M677.69 257.92h11.9M683.64 254.72v6.4M1057.41 257.92h11.9M1063.36 254.72v6.4M677.69 247.41h11.9M683.64 244.21v6.4M1057.41 247.41h11.9M1063.36 244.21v6.4M677.69 236.9h11.9M683.64 233.7v6.4M1057.41 236.9h11.9M1063.36 233.7v6.4M677.69 226.4h11.9M683.64 223.2v6.4M1057.41 226.4h11.9M1063.36 223.2v6.4M677.69 215.89h11.9M683.64 212.69v6.4M1057.41 215.89h11.9M1063.36 212.69v6.4M677.69 205.38h11.9M683.64 202.19v6.4M1057.41 205.38h11.9M1063.36 202.19v6.4M677.69 194.88h11.9M683.64 191.68v6.4M1057.41 194.88h11.9M1063.36 191.68v6.4M677.69 184.37h11.9M683.64 181.17v6.4M1057.41 184.37h11.9M1063.36 181.17v6.4M677.69 173.87h11.9M683.64 170.67v6.4M1057.41 173.87h11.9M1063.36 170.67v6.4M677.69 163.36h11.9M683.64 160.16v6.4M1057.41 163.36h11.9M1063.36 160.16v6.4M677.69 152.85h11.9M683.64 149.65v6.4M1057.41 152.85h11.9M1063.36 149.65v6.4" stroke="#161616" stroke-width="1.8" fill="none"/>
<path d="M695.77 793.74h11.9M713.85 793.74h11.9M731.94 793.74h11.9M750.02 793.74h11.9M768.1 793.74h11.9M786.18 793.74h11.9M804.26 793.74h11.9M822.35 793.74h11.9M840.43 793.74h11.9M858.51 793.74h11.9M876.59 793.74h11.9M894.67 793.74h11.9M912.75 793.74h11.9M930.84 793.74h11.9M948.92 793.74h11.9M967 793.74h11.9M985.08 793.74h11.9M1003.16 793.74h11.9M1021.25 793.74h11.9M1039.33 793.74h11.9M695.77 709.69h11.9M713.85 709.69h11.9M731.94 709.69h11.9M750.02 709.69h11.9M768.1 709.69h11.9M786.18 709.69h11.9M804.26 709.69h11.9M822.35 709.69h11.9M840.43 709.69h11.9M858.51 709.69h11.9M876.59 709.69h11.9M894.67 709.69h11.9M912.75 709.69h11.9M930.84 709.69h11.9M948.92 709.69h11.9M967 709.69h11.9M985.08 709.69h11.9M1003.16 709.69h11.9M1021.25 709.69h11.9M1039.33 709.69h11.9M695.77 646.65h11.9M713.85 646.65h11.9M731.94 646.65h11.9M750.02 646.65h11.9M768.1 646.65h11.9M786.18 646.65h11.9M804.26 646.65h11.9M822.35 646.65h11.9M840.43 646.65h11.9M858.51 646.65h11.9M876.59 646.65h11.9M894.67 646.65h11.9M912.75 646.65h11.9M930.84 646.65h11.9M948.92 646.65h11.9M967 646.65h11.9M985.08 646.65h11.9M1003.16 646.65h11.9M1021.25 646.65h11.9M1039.33 646.65h11.9M695.77 541.59h11.9M713.85 541.59h11.9M731.94 541.59h11.9M750.02 541.59h11.9M768.1 541.59h11.9M786.18 541.59h11.9M804.26 541.59h11.9M822.35 541.59h11.9M840.43 541.59h11.9M858.51 541.59h11.9M876.59 541.59h11.9M894.67 541.59h11.9M912.75 541.59h11.9M930.84 541.59h11.9M948.92 541.59h11.9M967 541.59h11.9M985.08 541.59h11.9M1003.16 541.59h11.9M1021.25 541.59h11.9M1039.33 541.59h11.9M695.77 457.54h11.9M713.85 457.54h11.9M731.94 457.54h11.9M750.02 457.54h11.9M768.1 457.54h11.9M786.18 457.54h11.9M804.26 457.54h11.9M822.35 457.54h11.9M840.43 457.54h11.9M858.51 457.54h11.9M876.59 457.54h11.9M894.67 457.54h11.9M912.75 457.54h11.9M930.84 457.54h11.9M948.92 457.54h11.9M967 457.54h11.9M985.08 457.54h11.9M1003.16 457.54h11.9M1021.25 457.54h11.9M1039.33 457.54h11.9" stroke="#1c1c22" stroke-width="2.0" fill="none"/>
<path d="M713.66 1106.62L725.77 1112.5M719.23 1109.33L713.66 1112.5M749.82 1106.62L761.94 1112.5M755.39 1109.33L749.82 1112.5M785.98 1106.62L798.1 1112.5M791.56 1109.33L785.98 1112.5M822.15 1106.62L834.26 1112.5M827.72 1109.33L822.15 1112.5M858.31 1106.62L870.43 1112.5M863.88 1109.33L858.31 1112.5M894.47 1106.62L906.59 1112.5M900.05 1109.33L894.47 1112.5M930.64 1106.62L942.75 1112.5M936.21 1109.33L930.64 1112.5M966.8 1106.62L978.92 1112.5M972.37 1109.33L966.8 1112.5M1002.97 1106.62L1015.08 1112.5M1008.54 1109.33L1002.97 1112.5M1039.13 1106.62L1051.24 1112.5M1044.7 1109.33L1039.13 1112.5M695.57 1085.61L707.69 1091.49M701.15 1088.31L695.57 1091.49M731.74 1085.61L743.85 1091.49M737.31 1088.31L731.74 1091.49M767.9 1085.61L780.02 1091.49M773.47 1088.31L767.9 1091.49M804.07 1085.61L816.18 1091.49M809.64 1088.31L804.07 1091.49M840.23 1085.61L852.34 1091.49M845.8 1088.31L840.23 1091.49M876.39 1085.61L888.51 1091.49M881.97 1088.31L876.39 1091.49M912.56 1085.61L924.67 1091.49M918.13 1088.31L912.56 1091.49M948.72 1085.61L960.84 1091.49M954.29 1088.31L948.72 1091.49M984.88 1085.61L997 1091.49M990.46 1088.31L984.88 1091.49M1021.05 1085.61L1033.16 1091.49M1026.62 1088.31L1021.05 1091.49M713.66 1064.6L725.77 1070.48M719.23 1067.3L713.66 1070.48M749.82 1064.6L761.94 1070.48M755.39 1067.3L749.82 1070.48M785.98 1064.6L798.1 1070.48M791.56 1067.3L785.98 1070.48M822.15 1064.6L834.26 1070.48M827.72 1067.3L822.15 1070.48M858.31 1064.6L870.43 1070.48M863.88 1067.3L858.31 1070.48M894.47 1064.6L906.59 1070.48M900.05 1067.3L894.47 1070.48M930.64 1064.6L942.75 1070.48M936.21 1067.3L930.64 1070.48M966.8 1064.6L978.92 1070.48M972.37 1067.3L966.8 1070.48M1002.97 1064.6L1015.08 1070.48M1008.54 1067.3L1002.97 1070.48M1039.13 1064.6L1051.24 1070.48M1044.7 1067.3L1039.13 1070.48M695.57 1043.58L707.69 1049.47M701.15 1046.29L695.57 1049.47M731.74 1043.58L743.85 1049.47M737.31 1046.29L731.74 1049.47M767.9 1043.58L780.02 1049.47M773.47 1046.29L767.9 1049.47M804.07 1043.58L816.18 1049.47M809.64 1046.29L804.07 1049.47M840.23 1043.58L852.34 1049.47M845.8 1046.29L840.23 1049.47M876.39 1043.58L888.51 1049.47M881.97 1046.29L876.39 1049.47M912.56 1043.58L924.67 1049.47M918.13 1046.29L912.56 1049.47M948.72 1043.58L960.84 1049.47M954.29 1046.29L948.72 1049.47M984.88 1043.58L997 1049.47M990.46 1046.29L984.88 1049.47M1021.05 1043.58L1033.16 1049.47M1026.62 1046.29L1021.05 1049.47M713.66 1022.57L725.77 1028.45M719.23 1025.28L713.66 1028.45M749.82 1022.57L761.94 1028.45M755.39 1025.28L749.82 1028.45M785.98 1022.57L798.1 1028.45M791.56 1025.28L785.98 1028.45M822.15 1022.57L834.26 1028.45M827.72 1025.28L822.15 1028.45M858.31 1022.57L870.43 1028.45M863.88 1025.28L858.31 1028.45M894.47 1022.57L906.59 1028.45M900.05 1025.28L894.47 1028.45M930.64 1022.57L942.75 1028.45M936.21 1025.28L930.64 1028.45M966.8 1022.57L978.92 1028.45M972.37 1025.28L966.8 1028.45M1002.97 1022.57L1015.08 1028.45M1008.54 1025.28L1002.97 1028.45M1039.13 1022.57L1051.24 1028.45M1044.7 1025.28L1039.13 1028.45M695.57 1001.56L707.69 1007.44M701.15 1004.26L695.57 1007.44M731.74 1001.56L743.85 1007.44M737.31 1004.26L731.74 1007.44M767.9 1001.56L780.02 1007.44M773.47 1004.26L767.9 1007.44M804.07 1001.56L816.18 1007.44M809.64 1004.26L804.07 1007.44M840.23 1001.56L852.34 1007.44M845.8 1004.26L840.23 1007.44M876.39 1001.56L888.51 1007.44M881.97 1004.26L876.39 1007.44M912.56 1001.56L924.67 1007.44M918.13 1004.26L912.56 1007.44M948.72 1001.56L960.84 1007.44M954.29 1004.26L948.72 1007.44M984.88 1001.56L997 1007.44M990.46 1004.26L984.88 1007.44M1021.05 1001.56L1033.16 1007.44M1026.62 1004.26L1021.05 1007.44M713.66 980.54L725.77 986.43M719.23 983.25L713.66 986.43M749.82 980.54L761.94 986.43M755.39 983.25L749.82 986.43M785.98 980.54L798.1 986.43M791.56 983.25L785.98 986.43M822.15 980.54L834.26 986.43M827.72 983.25L822.15 986.43M858.31 980.54L870.43 986.43M863.88 983.25L858.31 986.43M894.47 980.54L906.59 986.43M900.05 983.25L894.47 986.43M930.64 980.54L942.75 986.43M936.21 983.25L930.64 986.43M966.8 980.54L978.92 986.43M972.37 983.25L966.8 986.43M1002.97 980.54L1015.08 986.43M1008.54 983.25L1002.97 986.43M1039.13 980.54L1051.24 986.43M1044.7 983.25L1039.13 986.43M695.57 959.53L707.69 965.42M701.15 962.24L695.57 965.42M731.74 959.53L743.85 965.42M737.31 962.24L731.74 965.42M767.9 959.53L780.02 965.42M773.47 962.24L767.9 965.42M804.07 959.53L816.18 965.42M809.64 962.24L804.07 965.42M840.23 959.53L852.34 965.42M845.8 962.24L840.23 965.42M876.39 959.53L888.51 965.42M881.97 962.24L876.39 965.42M912.56 959.53L924.67 965.42M918.13 962.24L912.56 965.42M948.72 959.53L960.84 965.42M954.29 962.24L948.72 965.42M984.88 959.53L997 965.42M990.46 962.24L984.88 965.42M1021.05 959.53L1033.16 965.42M1026.62 962.24L1021.05 965.42M713.66 938.52L725.77 944.4M719.23 941.23L713.66 944.4M749.82 938.52L761.94 944.4M755.39 941.23L749.82 944.4M785.98 938.52L798.1 944.4M791.56 941.23L785.98 944.4M822.15 938.52L834.26 944.4M827.72 941.23L822.15 944.4M858.31 938.52L870.43 944.4M863.88 941.23L858.31 944.4M894.47 938.52L906.59 944.4M900.05 941.23L894.47 944.4M930.64 938.52L942.75 944.4M936.21 941.23L930.64 944.4M966.8 938.52L978.92 944.4M972.37 941.23L966.8 944.4M1002.97 938.52L1015.08 944.4M1008.54 941.23L1002.97 944.4M1039.13 938.52L1051.24 944.4M1044.7 941.23L1039.13 944.4M695.57 917.51L707.69 923.39M701.15 920.21L695.57 923.39M731.74 917.51L743.85 923.39M737.31 920.21L731.74 923.39M767.9 917.51L780.02 923.39M773.47 920.21L767.9 923.39M804.07 917.51L816.18 923.39M809.64 920.21L804.07 923.39M840.23 917.51L852.34 923.39M845.8 920.21L840.23 923.39M876.39 917.51L888.51 923.39M881.97 920.21L876.39 923.39M912.56 917.51L924.67 923.39M918.13 920.21L912.56 923.39M948.72 917.51L960.84 923.39M954.29 920.21L948.72 923.39M984.88 917.51L997 923.39M990.46 920.21L984.88 923.39M1021.05 917.51L1033.16 923.39M1026.62 920.21L1021.05 923.39M713.66 896.49L725.77 902.38M719.23 899.2L713.66 902.38M749.82 896.49L761.94 902.38M755.39 899.2L749.82 902.38M785.98 896.49L798.1 902.38M791.56 899.2L785.98 902.38M822.15 896.49L834.26 902.38M827.72 899.2L822.15 902.38M858.31 896.49L870.43 902.38M863.88 899.2L858.31 902.38M894.47 896.49L906.59 902.38M900.05 899.2L894.47 902.38M930.64 896.49L942.75 902.38M936.21 899.2L930.64 902.38M966.8 896.49L978.92 902.38M972.37 899.2L966.8 902.38M1002.97 896.49L1015.08 902.38M1008.54 899.2L1002.97 902.38M1039.13 896.49L1051.24 902.38M1044.7 899.2L1039.13 902.38M695.57 875.48L707.69 881.36M701.15 878.19L695.57 881.36M731.74 875.48L743.85 881.36M737.31 878.19L731.74 881.36M767.9 875.48L780.02 881.36M773.47 878.19L767.9 881.36M804.07 875.48L816.18 881.36M809.64 878.19L804.07 881.36M840.23 875.48L852.34 881.36M845.8 878.19L840.23 881.36M876.39 875.48L888.51 881.36M881.97 878.19L876.39 881.36M912.56 875.48L924.67 881.36M918.13 878.19L912.56 881.36M948.72 875.48L960.84 881.36M954.29 878.19L948.72 881.36M984.88 875.48L997 881.36M990.46 878.19L984.88 881.36M1021.05 875.48L1033.16 881.36M1026.62 878.19L1021.05 881.36M713.66 854.47L725.77 860.35M719.23 857.17L713.66 860.35M749.82 854.47L761.94 860.35M755.39 857.17L749.82 860.35M785.98 854.47L798.1 860.35M791.56 857.17L785.98 860.35M822.15 854.47L834.26 860.35M827.72 857.17L822.15 860.35M858.31 854.47L870.43 860.35M863.88 857.17L858.31 860.35M894.47 854.47L906.59 860.35M900.05 857.17L894.47 860.35M930.64 854.47L942.75 860.35M936.21 857.17L930.64 860.35M966.8 854.47L978.92 860.35M972.37 857.17L966.8 860.35M1002.97 854.47L1015.08 860.35M1008.54 857.17L1002.97 860.35M1039.13 854.47L1051.24 860.35M1044.7 857.17L1039.13 860.35M695.57 833.46L707.69 839.34M701.15 836.16L695.57 839.34M731.74 833.46L743.85 839.34M737.31 836.16L731.74 839.34M767.9 833.46L780.02 839.34M773.47 836.16L767.9 839.34M804.07 833.46L816.18 839.34M809.64 836.16L804.07 839.34M840.23 833.46L852.34 839.34M845.8 836.16L840.23 839.34M876.39 833.46L888.51 839.34M881.97 836.16L876.39 839.34M912.56 833.46L924.67 839.34M918.13 836.16L912.56 839.34M948.72 833.46L960.84 839.34M954.29 836.16L948.72 839.34M984.88 833.46L997 839.34M990.46 836.16L984.88 839.34M1021.05 833.46L1033.16 839.34M1026.62 836.16L1021.05 839.34M695.57 329.15L707.69 335.03M701.15 331.86L695.57 335.03M731.74 329.15L743.85 335.03M737.31 331.86L731.74 335.03M767.9 329.15L780.02 335.03M773.47 331.86L767.9 335.03M804.07 329.15L816.18 335.03M809.64 331.86L804.07 335.03M840.23 329.15L852.34 335.03M845.8 331.86L840.23 335.03M876.39 329.15L888.51 335.03M881.97 331.86L876.39 335.03M912.56 329.15L924.67 335.03M918.13 331.86L912.56 335.03M948.72 329.15L960.84 335.03M954.29 331.86L948.72 335.03M984.88 329.15L997 335.03M990.46 331.86L984.88 335.03M1021.05 329.15L1033.16 335.03M1026.62 331.86L1021.05 335.03M713.66 308.14L725.77 314.02M719.23 310.84L713.66 314.02M749.82 308.14L761.94 314.02M755.39 310.84L749.82 314.02M785.98 308.14L798.1 314.02M791.56 310.84L785.98 314.02M822.15 308.14L834.26 314.02M827.72 310.84L822.15 314.02M858.31 308.14L870.43 314.02M863.88 310.84L858.31 314.02M894.47 308.14L906.59 314.02M900.05 310.84L894.47 314.02M930.64 308.14L942.75 314.02M936.21 310.84L930.64 314.02M966.8 308.14L978.92 314.02M972.37 310.84L966.8 314.02M1002.97 308.14L1015.08 314.02M1008.54 310.84L1002.97 314.02M1039.13 308.14L1051.24 314.02M1044.7 310.84L1039.13 314.02M695.57 287.12L707.69 293.01M701.15 289.83L695.57 293.01M731.74 287.12L743.85 293.01M737.31 289.83L731.74 293.01M767.9 287.12L780.02 293.01M773.47 289.83L767.9 293.01M804.07 287.12L816.18 293.01M809.64 289.83L804.07 293.01M840.23 287.12L852.34 293.01M845.8 289.83L840.23 293.01M876.39 287.12L888.51 293.01M881.97 289.83L876.39 293.01M912.56 287.12L924.67 293.01M918.13 289.83L912.56 293.01M948.72 287.12L960.84 293.01M954.29 289.83L948.72 293.01M984.88 287.12L997 293.01M990.46 289.83L984.88 293.01M1021.05 287.12L1033.16 293.01M1026.62 289.83L1021.05 293.01M713.66 266.11L725.77 272M719.23 268.82L713.66 272M749.82 266.11L761.94 272M755.39 268.82L749.82 272M785.98 266.11L798.1 272M791.56 268.82L785.98 272M822.15 266.11L834.26 272M827.72 268.82L822.15 272M858.31 266.11L870.43 272M863.88 268.82L858.31 272M894.47 266.11L906.59 272M900.05 268.82L894.47 272M930.64 266.11L942.75 272M936.21 268.82L930.64 272M966.8 266.11L978.92 272M972.37 268.82L966.8 272M1002.97 266.11L1015.08 272M1008.54 268.82L1002.97 272M1039.13 266.11L1051.24 272M1044.7 268.82L1039.13 272M695.57 245.1L707.69 250.98M701.15 247.81L695.57 250.98M731.74 245.1L743.85 250.98M737.31 247.81L731.74 250.98M767.9 245.1L780.02 250.98M773.47 247.81L767.9 250.98M804.07 245.1L816.18 250.98M809.64 247.81L804.07 250.98M840.23 245.1L852.34 250.98M845.8 247.81L840.23 250.98M876.39 245.1L888.51 250.98M881.97 247.81L876.39 250.98M912.56 245.1L924.67 250.98M918.13 247.81L912.56 250.98M948.72 245.1L960.84 250.98M954.29 247.81L948.72 250.98M984.88 245.1L997 250.98M990.46 247.81L984.88 250.98M1021.05 245.1L1033.16 250.98M1026.62 247.81L1021.05 250.98M713.66 224.09L725.77 229.97M719.23 226.79L713.66 229.97M749.82 224.09L761.94 229.97M755.39 226.79L749.82 229.97M785.98 224.09L798.1 229.97M791.56 226.79L785.98 229.97M822.15 224.09L834.26 229.97M827.72 226.79L822.15 229.97M858.31 224.09L870.43 229.97M863.88 226.79L858.31 229.97M894.47 224.09L906.59 229.97M900.05 226.79L894.47 229.97M930.64 224.09L942.75 229.97M936.21 226.79L930.64 229.97M966.8 224.09L978.92 229.97M972.37 226.79L966.8 229.97M1002.97 224.09L1015.08 229.97M1008.54 226.79L1002.97 229.97M1039.13 224.09L1051.24 229.97M1044.7 226.79L1039.13 229.97M695.57 203.07L707.69 208.96M701.15 205.78L695.57 208.96M731.74 203.07L743.85 208.96M737.31 205.78L731.74 208.96M767.9 203.07L780.02 208.96M773.47 205.78L767.9 208.96M804.07 203.07L816.18 208.96M809.64 205.78L804.07 208.96M840.23 203.07L852.34 208.96M845.8 205.78L840.23 208.96M876.39 203.07L888.51 208.96M881.97 205.78L876.39 208.96M912.56 203.07L924.67 208.96M918.13 205.78L912.56 208.96M948.72 203.07L960.84 208.96M954.29 205.78L948.72 208.96M984.88 203.07L997 208.96M990.46 205.78L984.88 208.96M1021.05 203.07L1033.16 208.96M1026.62 205.78L1021.05 208.96M713.66 182.06L725.77 187.94M719.23 184.77L713.66 187.94M749.82 182.06L761.94 187.94M755.39 184.77L749.82 187.94M785.98 182.06L798.1 187.94M791.56 184.77L785.98 187.94M822.15 182.06L834.26 187.94M827.72 184.77L822.15 187.94M858.31 182.06L870.43 187.94M863.88 184.77L858.31 187.94M894.47 182.06L906.59 187.94M900.05 184.77L894.47 187.94M930.64 182.06L942.75 187.94M936.21 184.77L930.64 187.94M966.8 182.06L978.92 187.94M972.37 184.77L966.8 187.94M1002.97 182.06L1015.08 187.94M1008.54 184.77L1002.97 187.94M1039.13 182.06L1051.24 187.94M1044.7 184.77L1039.13 187.94M695.57 161.05L707.69 166.93M701.15 163.75L695.57 166.93M731.74 161.05L743.85 166.93M737.31 163.75L731.74 166.93M767.9 161.05L780.02 166.93M773.47 163.75L767.9 166.93M804.07 161.05L816.18 166.93M809.64 163.75L804.07 166.93M840.23 161.05L852.34 166.93M845.8 163.75L840.23 166.93M876.39 161.05L888.51 166.93M881.97 163.75L876.39 166.93M912.56 161.05L924.67 166.93M918.13 163.75L912.56 166.93M948.72 161.05L960.84 166.93M954.29 163.75L948.72 166.93M984.88 161.05L997 166.93M990.46 163.75L984.88 166.93M1021.05 161.05L1033.16 166.93M1026.62 163.75L1021.05 166.93" stroke="#1e1e1e" stroke-width="1.65" fill="none" stroke-linecap="round"/>
<g stroke="#1e1e1e" stroke-width="1.65" fill="none"><ellipse cx="701.32" cy="1109.03" rx="5.75" ry="2.95"/><ellipse cx="737.49" cy="1109.03" rx="5.75" ry="2.95"/><ellipse cx="773.65" cy="1109.03" rx="5.75" ry="2.95"/><ellipse cx="809.81" cy="1109.03" rx="5.75" ry="2.95"/><ellipse cx="845.98" cy="1109.03" rx="5.75" ry="2.95"/><ellipse cx="882.14" cy="1109.03" rx="5.75" ry="2.95"/><ellipse cx="918.3" cy="1109.03" rx="5.75" ry="2.95"/><ellipse cx="954.47" cy="1109.03" rx="5.75" ry="2.95"/><ellipse cx="990.63" cy="1109.03" rx="5.75" ry="2.95"/><ellipse cx="1026.8" cy="1109.03" rx="5.75" ry="2.95"/><ellipse cx="719.4" cy="1088.02" rx="5.75" ry="2.95"/><ellipse cx="755.57" cy="1088.02" rx="5.75" ry="2.95"/><ellipse cx="791.73" cy="1088.02" rx="5.75" ry="2.95"/><ellipse cx="827.9" cy="1088.02" rx="5.75" ry="2.95"/><ellipse cx="864.06" cy="1088.02" rx="5.75" ry="2.95"/><ellipse cx="900.22" cy="1088.02" rx="5.75" ry="2.95"/><ellipse cx="936.39" cy="1088.02" rx="5.75" ry="2.95"/><ellipse cx="972.55" cy="1088.02" rx="5.75" ry="2.95"/><ellipse cx="1008.71" cy="1088.02" rx="5.75" ry="2.95"/><ellipse cx="1044.88" cy="1088.02" rx="5.75" ry="2.95"/><ellipse cx="701.32" cy="1067.01" rx="5.75" ry="2.95"/><ellipse cx="737.49" cy="1067.01" rx="5.75" ry="2.95"/><ellipse cx="773.65" cy="1067.01" rx="5.75" ry="2.95"/><ellipse cx="809.81" cy="1067.01" rx="5.75" ry="2.95"/><ellipse cx="845.98" cy="1067.01" rx="5.75" ry="2.95"/><ellipse cx="882.14" cy="1067.01" rx="5.75" ry="2.95"/><ellipse cx="918.3" cy="1067.01" rx="5.75" ry="2.95"/><ellipse cx="954.47" cy="1067.01" rx="5.75" ry="2.95"/><ellipse cx="990.63" cy="1067.01" rx="5.75" ry="2.95"/><ellipse cx="1026.8" cy="1067.01" rx="5.75" ry="2.95"/><ellipse cx="719.4" cy="1045.99" rx="5.75" ry="2.95"/><ellipse cx="755.57" cy="1045.99" rx="5.75" ry="2.95"/><ellipse cx="791.73" cy="1045.99" rx="5.75" ry="2.95"/><ellipse cx="827.9" cy="1045.99" rx="5.75" ry="2.95"/><ellipse cx="864.06" cy="1045.99" rx="5.75" ry="2.95"/><ellipse cx="900.22" cy="1045.99" rx="5.75" ry="2.95"/><ellipse cx="936.39" cy="1045.99" rx="5.75" ry="2.95"/><ellipse cx="972.55" cy="1045.99" rx="5.75" ry="2.95"/><ellipse cx="1008.71" cy="1045.99" rx="5.75" ry="2.95"/><ellipse cx="1044.88" cy="1045.99" rx="5.75" ry="2.95"/><ellipse cx="701.32" cy="1024.98" rx="5.75" ry="2.95"/><ellipse cx="737.49" cy="1024.98" rx="5.75" ry="2.95"/><ellipse cx="773.65" cy="1024.98" rx="5.75" ry="2.95"/><ellipse cx="809.81" cy="1024.98" rx="5.75" ry="2.95"/><ellipse cx="845.98" cy="1024.98" rx="5.75" ry="2.95"/><ellipse cx="882.14" cy="1024.98" rx="5.75" ry="2.95"/><ellipse cx="918.3" cy="1024.98" rx="5.75" ry="2.95"/><ellipse cx="954.47" cy="1024.98" rx="5.75" ry="2.95"/><ellipse cx="990.63" cy="1024.98" rx="5.75" ry="2.95"/><ellipse cx="1026.8" cy="1024.98" rx="5.75" ry="2.95"/><ellipse cx="719.4" cy="1003.97" rx="5.75" ry="2.95"/><ellipse cx="755.57" cy="1003.97" rx="5.75" ry="2.95"/><ellipse cx="791.73" cy="1003.97" rx="5.75" ry="2.95"/><ellipse cx="827.9" cy="1003.97" rx="5.75" ry="2.95"/><ellipse cx="864.06" cy="1003.97" rx="5.75" ry="2.95"/><ellipse cx="900.22" cy="1003.97" rx="5.75" ry="2.95"/><ellipse cx="936.39" cy="1003.97" rx="5.75" ry="2.95"/><ellipse cx="972.55" cy="1003.97" rx="5.75" ry="2.95"/><ellipse cx="1008.71" cy="1003.97" rx="5.75" ry="2.95"/><ellipse cx="1044.88" cy="1003.97" rx="5.75" ry="2.95"/><ellipse cx="701.32" cy="982.96" rx="5.75" ry="2.95"/><ellipse cx="737.49" cy="982.96" rx="5.75" ry="2.95"/><ellipse cx="773.65" cy="982.96" rx="5.75" ry="2.95"/><ellipse cx="809.81" cy="982.96" rx="5.75" ry="2.95"/><ellipse cx="845.98" cy="982.96" rx="5.75" ry="2.95"/><ellipse cx="882.14" cy="982.96" rx="5.75" ry="2.95"/><ellipse cx="918.3" cy="982.96" rx="5.75" ry="2.95"/><ellipse cx="954.47" cy="982.96" rx="5.75" ry="2.95"/><ellipse cx="990.63" cy="982.96" rx="5.75" ry="2.95"/><ellipse cx="1026.8" cy="982.96" rx="5.75" ry="2.95"/><ellipse cx="719.4" cy="961.94" rx="5.75" ry="2.95"/><ellipse cx="755.57" cy="961.94" rx="5.75" ry="2.95"/><ellipse cx="791.73" cy="961.94" rx="5.75" ry="2.95"/><ellipse cx="827.9" cy="961.94" rx="5.75" ry="2.95"/><ellipse cx="864.06" cy="961.94" rx="5.75" ry="2.95"/><ellipse cx="900.22" cy="961.94" rx="5.75" ry="2.95"/><ellipse cx="936.39" cy="961.94" rx="5.75" ry="2.95"/><ellipse cx="972.55" cy="961.94" rx="5.75" ry="2.95"/><ellipse cx="1008.71" cy="961.94" rx="5.75" ry="2.95"/><ellipse cx="1044.88" cy="961.94" rx="5.75" ry="2.95"/><ellipse cx="701.32" cy="940.93" rx="5.75" ry="2.95"/><ellipse cx="737.49" cy="940.93" rx="5.75" ry="2.95"/><ellipse cx="773.65" cy="940.93" rx="5.75" ry="2.95"/><ellipse cx="809.81" cy="940.93" rx="5.75" ry="2.95"/><ellipse cx="845.98" cy="940.93" rx="5.75" ry="2.95"/><ellipse cx="882.14" cy="940.93" rx="5.75" ry="2.95"/><ellipse cx="918.3" cy="940.93" rx="5.75" ry="2.95"/><ellipse cx="954.47" cy="940.93" rx="5.75" ry="2.95"/><ellipse cx="990.63" cy="940.93" rx="5.75" ry="2.95"/><ellipse cx="1026.8" cy="940.93" rx="5.75" ry="2.95"/><ellipse cx="719.4" cy="919.92" rx="5.75" ry="2.95"/><ellipse cx="755.57" cy="919.92" rx="5.75" ry="2.95"/><ellipse cx="791.73" cy="919.92" rx="5.75" ry="2.95"/><ellipse cx="827.9" cy="919.92" rx="5.75" ry="2.95"/><ellipse cx="864.06" cy="919.92" rx="5.75" ry="2.95"/><ellipse cx="900.22" cy="919.92" rx="5.75" ry="2.95"/><ellipse cx="936.39" cy="919.92" rx="5.75" ry="2.95"/><ellipse cx="972.55" cy="919.92" rx="5.75" ry="2.95"/><ellipse cx="1008.71" cy="919.92" rx="5.75" ry="2.95"/><ellipse cx="1044.88" cy="919.92" rx="5.75" ry="2.95"/><ellipse cx="701.32" cy="898.9" rx="5.75" ry="2.95"/><ellipse cx="737.49" cy="898.9" rx="5.75" ry="2.95"/><ellipse cx="773.65" cy="898.9" rx="5.75" ry="2.95"/><ellipse cx="809.81" cy="898.9" rx="5.75" ry="2.95"/><ellipse cx="845.98" cy="898.9" rx="5.75" ry="2.95"/><ellipse cx="882.14" cy="898.9" rx="5.75" ry="2.95"/><ellipse cx="918.3" cy="898.9" rx="5.75" ry="2.95"/><ellipse cx="954.47" cy="898.9" rx="5.75" ry="2.95"/><ellipse cx="990.63" cy="898.9" rx="5.75" ry="2.95"/><ellipse cx="1026.8" cy="898.9" rx="5.75" ry="2.95"/><ellipse cx="719.4" cy="877.89" rx="5.75" ry="2.95"/><ellipse cx="755.57" cy="877.89" rx="5.75" ry="2.95"/><ellipse cx="791.73" cy="877.89" rx="5.75" ry="2.95"/><ellipse cx="827.9" cy="877.89" rx="5.75" ry="2.95"/><ellipse cx="864.06" cy="877.89" rx="5.75" ry="2.95"/><ellipse cx="900.22" cy="877.89" rx="5.75" ry="2.95"/><ellipse cx="936.39" cy="877.89" rx="5.75" ry="2.95"/><ellipse cx="972.55" cy="877.89" rx="5.75" ry="2.95"/><ellipse cx="1008.71" cy="877.89" rx="5.75" ry="2.95"/><ellipse cx="1044.88" cy="877.89" rx="5.75" ry="2.95"/><ellipse cx="701.32" cy="856.88" rx="5.75" ry="2.95"/><ellipse cx="737.49" cy="856.88" rx="5.75" ry="2.95"/><ellipse cx="773.65" cy="856.88" rx="5.75" ry="2.95"/><ellipse cx="809.81" cy="856.88" rx="5.75" ry="2.95"/><ellipse cx="845.98" cy="856.88" rx="5.75" ry="2.95"/><ellipse cx="882.14" cy="856.88" rx="5.75" ry="2.95"/><ellipse cx="918.3" cy="856.88" rx="5.75" ry="2.95"/><ellipse cx="954.47" cy="856.88" rx="5.75" ry="2.95"/><ellipse cx="990.63" cy="856.88" rx="5.75" ry="2.95"/><ellipse cx="1026.8" cy="856.88" rx="5.75" ry="2.95"/><ellipse cx="719.4" cy="835.87" rx="5.75" ry="2.95"/><ellipse cx="755.57" cy="835.87" rx="5.75" ry="2.95"/><ellipse cx="791.73" cy="835.87" rx="5.75" ry="2.95"/><ellipse cx="827.9" cy="835.87" rx="5.75" ry="2.95"/><ellipse cx="864.06" cy="835.87" rx="5.75" ry="2.95"/><ellipse cx="900.22" cy="835.87" rx="5.75" ry="2.95"/><ellipse cx="936.39" cy="835.87" rx="5.75" ry="2.95"/><ellipse cx="972.55" cy="835.87" rx="5.75" ry="2.95"/><ellipse cx="1008.71" cy="835.87" rx="5.75" ry="2.95"/><ellipse cx="1044.88" cy="835.87" rx="5.75" ry="2.95"/><ellipse cx="719.4" cy="331.56" rx="5.75" ry="2.95"/><ellipse cx="755.57" cy="331.56" rx="5.75" ry="2.95"/><ellipse cx="791.73" cy="331.56" rx="5.75" ry="2.95"/><ellipse cx="827.9" cy="331.56" rx="5.75" ry="2.95"/><ellipse cx="864.06" cy="331.56" rx="5.75" ry="2.95"/><ellipse cx="900.22" cy="331.56" rx="5.75" ry="2.95"/><ellipse cx="936.39" cy="331.56" rx="5.75" ry="2.95"/><ellipse cx="972.55" cy="331.56" rx="5.75" ry="2.95"/><ellipse cx="1008.71" cy="331.56" rx="5.75" ry="2.95"/><ellipse cx="1044.88" cy="331.56" rx="5.75" ry="2.95"/><ellipse cx="701.32" cy="310.55" rx="5.75" ry="2.95"/><ellipse cx="737.49" cy="310.55" rx="5.75" ry="2.95"/><ellipse cx="773.65" cy="310.55" rx="5.75" ry="2.95"/><ellipse cx="809.81" cy="310.55" rx="5.75" ry="2.95"/><ellipse cx="845.98" cy="310.55" rx="5.75" ry="2.95"/><ellipse cx="882.14" cy="310.55" rx="5.75" ry="2.95"/><ellipse cx="918.3" cy="310.55" rx="5.75" ry="2.95"/><ellipse cx="954.47" cy="310.55" rx="5.75" ry="2.95"/><ellipse cx="990.63" cy="310.55" rx="5.75" ry="2.95"/><ellipse cx="1026.8" cy="310.55" rx="5.75" ry="2.95"/><ellipse cx="719.4" cy="289.54" rx="5.75" ry="2.95"/><ellipse cx="755.57" cy="289.54" rx="5.75" ry="2.95"/><ellipse cx="791.73" cy="289.54" rx="5.75" ry="2.95"/><ellipse cx="827.9" cy="289.54" rx="5.75" ry="2.95"/><ellipse cx="864.06" cy="289.54" rx="5.75" ry="2.95"/><ellipse cx="900.22" cy="289.54" rx="5.75" ry="2.95"/><ellipse cx="936.39" cy="289.54" rx="5.75" ry="2.95"/><ellipse cx="972.55" cy="289.54" rx="5.75" ry="2.95"/><ellipse cx="1008.71" cy="289.54" rx="5.75" ry="2.95"/><ellipse cx="1044.88" cy="289.54" rx="5.75" ry="2.95"/><ellipse cx="701.32" cy="268.52" rx="5.75" ry="2.95"/><ellipse cx="737.49" cy="268.52" rx="5.75" ry="2.95"/><ellipse cx="773.65" cy="268.52" rx="5.75" ry="2.95"/><ellipse cx="809.81" cy="268.52" rx="5.75" ry="2.95"/><ellipse cx="845.98" cy="268.52" rx="5.75" ry="2.95"/><ellipse cx="882.14" cy="268.52" rx="5.75" ry="2.95"/><ellipse cx="918.3" cy="268.52" rx="5.75" ry="2.95"/><ellipse cx="954.47" cy="268.52" rx="5.75" ry="2.95"/><ellipse cx="990.63" cy="268.52" rx="5.75" ry="2.95"/><ellipse cx="1026.8" cy="268.52" rx="5.75" ry="2.95"/><ellipse cx="719.4" cy="247.51" rx="5.75" ry="2.95"/><ellipse cx="755.57" cy="247.51" rx="5.75" ry="2.95"/><ellipse cx="791.73" cy="247.51" rx="5.75" ry="2.95"/><ellipse cx="827.9" cy="247.51" rx="5.75" ry="2.95"/><ellipse cx="864.06" cy="247.51" rx="5.75" ry="2.95"/><ellipse cx="900.22" cy="247.51" rx="5.75" ry="2.95"/><ellipse cx="936.39" cy="247.51" rx="5.75" ry="2.95"/><ellipse cx="972.55" cy="247.51" rx="5.75" ry="2.95"/><ellipse cx="1008.71" cy="247.51" rx="5.75" ry="2.95"/><ellipse cx="1044.88" cy="247.51" rx="5.75" ry="2.95"/><ellipse cx="701.32" cy="226.5" rx="5.75" ry="2.95"/><ellipse cx="737.49" cy="226.5" rx="5.75" ry="2.95"/><ellipse cx="773.65" cy="226.5" rx="5.75" ry="2.95"/><ellipse cx="809.81" cy="226.5" rx="5.75" ry="2.95"/><ellipse cx="845.98" cy="226.5" rx="5.75" ry="2.95"/><ellipse cx="882.14" cy="226.5" rx="5.75" ry="2.95"/><ellipse cx="918.3" cy="226.5" rx="5.75" ry="2.95"/><ellipse cx="954.47" cy="226.5" rx="5.75" ry="2.95"/><ellipse cx="990.63" cy="226.5" rx="5.75" ry="2.95"/><ellipse cx="1026.8" cy="226.5" rx="5.75" ry="2.95"/><ellipse cx="719.4" cy="205.48" rx="5.75" ry="2.95"/><ellipse cx="755.57" cy="205.48" rx="5.75" ry="2.95"/><ellipse cx="791.73" cy="205.48" rx="5.75" ry="2.95"/><ellipse cx="827.9" cy="205.48" rx="5.75" ry="2.95"/><ellipse cx="864.06" cy="205.48" rx="5.75" ry="2.95"/><ellipse cx="900.22" cy="205.48" rx="5.75" ry="2.95"/><ellipse cx="936.39" cy="205.48" rx="5.75" ry="2.95"/><ellipse cx="972.55" cy="205.48" rx="5.75" ry="2.95"/><ellipse cx="1008.71" cy="205.48" rx="5.75" ry="2.95"/><ellipse cx="1044.88" cy="205.48" rx="5.75" ry="2.95"/><ellipse cx="701.32" cy="184.47" rx="5.75" ry="2.95"/><ellipse cx="737.49" cy="184.47" rx="5.75" ry="2.95"/><ellipse cx="773.65" cy="184.47" rx="5.75" ry="2.95"/><ellipse cx="809.81" cy="184.47" rx="5.75" ry="2.95"/><ellipse cx="845.98" cy="184.47" rx="5.75" ry="2.95"/><ellipse cx="882.14" cy="184.47" rx="5.75" ry="2.95"/><ellipse cx="918.3" cy="184.47" rx="5.75" ry="2.95"/><ellipse cx="954.47" cy="184.47" rx="5.75" ry="2.95"/><ellipse cx="990.63" cy="184.47" rx="5.75" ry="2.95"/><ellipse cx="1026.8" cy="184.47" rx="5.75" ry="2.95"/><ellipse cx="719.4" cy="163.46" rx="5.75" ry="2.95"/><ellipse cx="755.57" cy="163.46" rx="5.75" ry="2.95"/><ellipse cx="791.73" cy="163.46" rx="5.75" ry="2.95"/><ellipse cx="827.9" cy="163.46" rx="5.75" ry="2.95"/><ellipse cx="864.06" cy="163.46" rx="5.75" ry="2.95"/><ellipse cx="900.22" cy="163.46" rx="5.75" ry="2.95"/><ellipse cx="936.39" cy="163.46" rx="5.75" ry="2.95"/><ellipse cx="972.55" cy="163.46" rx="5.75" ry="2.95"/><ellipse cx="1008.71" cy="163.46" rx="5.75" ry="2.95"/><ellipse cx="1044.88" cy="163.46" rx="5.75" ry="2.95"/></g>
<rect x="981.14" y="147.6" width="37.01" height="1155.7" fill="none" stroke="#b3263a" stroke-width="2.0"/>
<g class="ss" fill="#161616"><text x="449.5" y="846.34" font-size="16" textLength="6.3" lengthAdjust="spacingAndGlyphs">1</text><text x="123.8" y="837.53" font-size="16" textLength="6.3" lengthAdjust="spacingAndGlyphs">2</text><text x="449.5" y="826.96" font-size="16" textLength="6.3" lengthAdjust="spacingAndGlyphs">3</text><text x="123.8" y="818.11" font-size="16" textLength="6.3" lengthAdjust="spacingAndGlyphs">4</text><text x="449.5" y="807.59" font-size="16" textLength="6.3" lengthAdjust="spacingAndGlyphs">5</text><text x="123.8" y="798.68" font-size="16" textLength="6.3" lengthAdjust="spacingAndGlyphs">6</text><text x="449.5" y="788.21" font-size="16" textLength="6.3" lengthAdjust="spacingAndGlyphs">7</text><text x="123.8" y="779.26" font-size="16" textLength="6.3" lengthAdjust="spacingAndGlyphs">8</text><text x="449.5" y="768.83" font-size="16" textLength="6.3" lengthAdjust="spacingAndGlyphs">9</text><text x="123.8" y="759.83" font-size="16" textLength="12.6" lengthAdjust="spacingAndGlyphs">10</text><text x="449.5" y="749.45" font-size="16" textLength="12.6" lengthAdjust="spacingAndGlyphs">11</text><text x="123.8" y="740.41" font-size="16" textLength="12.6" lengthAdjust="spacingAndGlyphs">12</text><text x="449.5" y="730.07" font-size="16" textLength="12.6" lengthAdjust="spacingAndGlyphs">13</text><text x="123.8" y="720.98" font-size="16" textLength="12.6" lengthAdjust="spacingAndGlyphs">14</text><text x="449.5" y="710.69" font-size="16" textLength="12.6" lengthAdjust="spacingAndGlyphs">15</text><text x="123.8" y="701.56" font-size="16" textLength="12.6" lengthAdjust="spacingAndGlyphs">16</text><text x="449.5" y="691.31" font-size="16" textLength="12.6" lengthAdjust="spacingAndGlyphs">17</text><text x="123.8" y="682.13" font-size="16" textLength="12.6" lengthAdjust="spacingAndGlyphs">18</text><text x="449.5" y="671.93" font-size="16" textLength="12.6" lengthAdjust="spacingAndGlyphs">19</text><text x="123.8" y="662.71" font-size="16" textLength="12.6" lengthAdjust="spacingAndGlyphs">20</text><text x="449.5" y="652.55" font-size="16" textLength="12.6" lengthAdjust="spacingAndGlyphs">21</text><text x="123.8" y="643.28" font-size="16" textLength="12.6" lengthAdjust="spacingAndGlyphs">22</text><text x="449.5" y="633.17" font-size="16" textLength="12.6" lengthAdjust="spacingAndGlyphs">23</text><text x="123.8" y="623.86" font-size="16" textLength="12.6" lengthAdjust="spacingAndGlyphs">24</text><text x="449.5" y="613.79" font-size="16" textLength="12.6" lengthAdjust="spacingAndGlyphs">25</text><text x="123.8" y="604.43" font-size="16" textLength="12.6" lengthAdjust="spacingAndGlyphs">26</text><text x="449.5" y="594.41" font-size="16" textLength="12.6" lengthAdjust="spacingAndGlyphs">27</text><text x="123.8" y="585.01" font-size="16" textLength="12.6" lengthAdjust="spacingAndGlyphs">28</text><text x="449.5" y="575.03" font-size="16" textLength="12.6" lengthAdjust="spacingAndGlyphs">29</text><text x="123.8" y="565.58" font-size="16" textLength="12.6" lengthAdjust="spacingAndGlyphs">30</text><text x="449.5" y="555.65" font-size="16" textLength="12.6" lengthAdjust="spacingAndGlyphs">31</text><text x="123.8" y="546.16" font-size="16" textLength="12.6" lengthAdjust="spacingAndGlyphs">32</text><text x="449.5" y="536.28" font-size="16" textLength="12.6" lengthAdjust="spacingAndGlyphs">33</text><text x="123.8" y="526.73" font-size="16" textLength="12.6" lengthAdjust="spacingAndGlyphs">34</text><text x="449.5" y="516.9" font-size="16" textLength="12.6" lengthAdjust="spacingAndGlyphs">35</text><text x="123.8" y="507.31" font-size="16" textLength="12.6" lengthAdjust="spacingAndGlyphs">36</text><text x="449.5" y="497.52" font-size="16" textLength="12.6" lengthAdjust="spacingAndGlyphs">37</text><text x="123.8" y="487.88" font-size="16" textLength="12.6" lengthAdjust="spacingAndGlyphs">38</text><text x="449.5" y="478.14" font-size="16" textLength="12.6" lengthAdjust="spacingAndGlyphs">39</text><text x="123.8" y="468.46" font-size="16" textLength="12.6" lengthAdjust="spacingAndGlyphs">40</text><text x="449.5" y="458.76" font-size="16" textLength="12.6" lengthAdjust="spacingAndGlyphs">41</text><text x="123.8" y="449.03" font-size="16" textLength="12.6" lengthAdjust="spacingAndGlyphs">42</text><text x="449.5" y="439.38" font-size="16" textLength="12.6" lengthAdjust="spacingAndGlyphs">43</text><text x="123.8" y="429.61" font-size="16" textLength="12.6" lengthAdjust="spacingAndGlyphs">44</text><text x="449.5" y="420" font-size="16" textLength="12.6" lengthAdjust="spacingAndGlyphs">45</text><text x="123.8" y="410.18" font-size="16" textLength="12.6" lengthAdjust="spacingAndGlyphs">46</text><text x="449.5" y="400.62" font-size="16" textLength="12.6" lengthAdjust="spacingAndGlyphs">47</text><text x="123.8" y="390.76" font-size="16" textLength="12.6" lengthAdjust="spacingAndGlyphs">48</text><text x="449.5" y="381.24" font-size="16" textLength="12.6" lengthAdjust="spacingAndGlyphs">49</text><text x="123.8" y="371.33" font-size="16" textLength="12.6" lengthAdjust="spacingAndGlyphs">50</text><text x="449.5" y="361.86" font-size="16" textLength="12.6" lengthAdjust="spacingAndGlyphs">51</text><text x="123.8" y="351.91" font-size="16" textLength="12.6" lengthAdjust="spacingAndGlyphs">52</text><text x="449.5" y="342.48" font-size="16" textLength="12.6" lengthAdjust="spacingAndGlyphs">53</text><text x="123.8" y="332.48" font-size="16" textLength="12.6" lengthAdjust="spacingAndGlyphs">54</text><text x="449.5" y="323.1" font-size="16" textLength="12.6" lengthAdjust="spacingAndGlyphs">55</text><text x="123.8" y="313.06" font-size="16" textLength="12.6" lengthAdjust="spacingAndGlyphs">56</text><text x="449.5" y="303.72" font-size="16" textLength="12.6" lengthAdjust="spacingAndGlyphs">57</text><text x="123.8" y="293.63" font-size="16" textLength="12.6" lengthAdjust="spacingAndGlyphs">58</text><text x="449.5" y="284.34" font-size="16" textLength="12.6" lengthAdjust="spacingAndGlyphs">59</text><text x="123.8" y="274.21" font-size="16" textLength="12.6" lengthAdjust="spacingAndGlyphs">60</text><text x="449.5" y="264.97" font-size="16" textLength="12.6" lengthAdjust="spacingAndGlyphs">61</text><text x="123.8" y="254.78" font-size="16" textLength="12.6" lengthAdjust="spacingAndGlyphs">62</text><text x="449.5" y="245.59" font-size="16" textLength="12.6" lengthAdjust="spacingAndGlyphs">63</text><text x="123.8" y="235.36" font-size="16" textLength="12.6" lengthAdjust="spacingAndGlyphs">64</text><text x="449.5" y="226.21" font-size="16" textLength="12.6" lengthAdjust="spacingAndGlyphs">65</text><text x="123.8" y="215.93" font-size="16" textLength="12.6" lengthAdjust="spacingAndGlyphs">66</text><text x="449.5" y="206.83" font-size="16" textLength="12.6" lengthAdjust="spacingAndGlyphs">67</text><text x="123.8" y="196.51" font-size="16" textLength="12.6" lengthAdjust="spacingAndGlyphs">68</text><text x="449.5" y="187.45" font-size="16" textLength="12.6" lengthAdjust="spacingAndGlyphs">69</text><text x="123.8" y="177.08" font-size="16" textLength="12.6" lengthAdjust="spacingAndGlyphs">70</text><text x="449.5" y="168.07" font-size="16" textLength="12.6" lengthAdjust="spacingAndGlyphs">71</text><text x="123.8" y="157.66" font-size="16" textLength="12.6" lengthAdjust="spacingAndGlyphs">72</text><text x="1075.5" y="1305.25" font-size="16" textLength="6.65" lengthAdjust="spacingAndGlyphs">1</text><text x="647.8" y="1294.44" font-size="16" textLength="6.7" lengthAdjust="spacingAndGlyphs">2</text><text x="1075.5" y="1284.23" font-size="16" textLength="6.65" lengthAdjust="spacingAndGlyphs">3</text><text x="647.8" y="1273.43" font-size="16" textLength="6.7" lengthAdjust="spacingAndGlyphs">4</text><text x="1075.5" y="1263.22" font-size="16" textLength="6.65" lengthAdjust="spacingAndGlyphs">5</text><text x="647.8" y="1252.41" font-size="16" textLength="6.7" lengthAdjust="spacingAndGlyphs">6</text><text x="1075.5" y="1242.21" font-size="16" textLength="6.65" lengthAdjust="spacingAndGlyphs">7</text><text x="647.8" y="1231.4" font-size="16" textLength="6.7" lengthAdjust="spacingAndGlyphs">8</text><text x="1075.5" y="1221.2" font-size="16" textLength="6.65" lengthAdjust="spacingAndGlyphs">9</text><text x="647.8" y="1210.39" font-size="16" textLength="13.4" lengthAdjust="spacingAndGlyphs">10</text><text x="1075.5" y="1200.18" font-size="16" textLength="13.3" lengthAdjust="spacingAndGlyphs">11</text><text x="647.8" y="1189.38" font-size="16" textLength="13.4" lengthAdjust="spacingAndGlyphs">12</text><text x="1075.5" y="1179.17" font-size="16" textLength="13.3" lengthAdjust="spacingAndGlyphs">13</text><text x="647.8" y="1168.36" font-size="16" textLength="13.4" lengthAdjust="spacingAndGlyphs">14</text><text x="1075.5" y="1158.16" font-size="16" textLength="13.3" lengthAdjust="spacingAndGlyphs">15</text><text x="647.8" y="1147.35" font-size="16" textLength="13.4" lengthAdjust="spacingAndGlyphs">16</text><text x="1075.5" y="1137.14" font-size="16" textLength="13.3" lengthAdjust="spacingAndGlyphs">17</text><text x="647.8" y="1126.34" font-size="16" textLength="13.4" lengthAdjust="spacingAndGlyphs">18</text><text x="1075.5" y="1116.13" font-size="16" textLength="13.3" lengthAdjust="spacingAndGlyphs">19</text><text x="647.8" y="1105.33" font-size="16" textLength="13.4" lengthAdjust="spacingAndGlyphs">20</text><text x="1075.5" y="1095.12" font-size="16" textLength="13.3" lengthAdjust="spacingAndGlyphs">21</text><text x="647.8" y="1084.31" font-size="16" textLength="13.4" lengthAdjust="spacingAndGlyphs">22</text><text x="1075.5" y="1074.11" font-size="16" textLength="13.3" lengthAdjust="spacingAndGlyphs">23</text><text x="647.8" y="1063.3" font-size="16" textLength="13.4" lengthAdjust="spacingAndGlyphs">24</text><text x="1075.5" y="1053.09" font-size="16" textLength="13.3" lengthAdjust="spacingAndGlyphs">25</text><text x="647.8" y="1042.29" font-size="16" textLength="13.4" lengthAdjust="spacingAndGlyphs">26</text><text x="1075.5" y="1032.08" font-size="16" textLength="13.3" lengthAdjust="spacingAndGlyphs">27</text><text x="647.8" y="1021.27" font-size="16" textLength="13.4" lengthAdjust="spacingAndGlyphs">28</text><text x="1075.5" y="1011.07" font-size="16" textLength="13.3" lengthAdjust="spacingAndGlyphs">29</text><text x="647.8" y="1000.26" font-size="16" textLength="13.4" lengthAdjust="spacingAndGlyphs">30</text><text x="1075.5" y="990.06" font-size="16" textLength="13.3" lengthAdjust="spacingAndGlyphs">31</text><text x="647.8" y="979.25" font-size="16" textLength="13.4" lengthAdjust="spacingAndGlyphs">32</text><text x="1075.5" y="969.04" font-size="16" textLength="13.3" lengthAdjust="spacingAndGlyphs">33</text><text x="647.8" y="958.24" font-size="16" textLength="13.4" lengthAdjust="spacingAndGlyphs">34</text><text x="1075.5" y="948.03" font-size="16" textLength="13.3" lengthAdjust="spacingAndGlyphs">35</text><text x="647.8" y="937.22" font-size="16" textLength="13.4" lengthAdjust="spacingAndGlyphs">36</text><text x="1075.5" y="927.02" font-size="16" textLength="13.3" lengthAdjust="spacingAndGlyphs">37</text><text x="647.8" y="916.21" font-size="16" textLength="13.4" lengthAdjust="spacingAndGlyphs">38</text><text x="1075.5" y="906" font-size="16" textLength="13.3" lengthAdjust="spacingAndGlyphs">39</text><text x="647.8" y="895.2" font-size="16" textLength="13.4" lengthAdjust="spacingAndGlyphs">40</text><text x="1075.5" y="884.99" font-size="16" textLength="13.3" lengthAdjust="spacingAndGlyphs">41</text><text x="647.8" y="874.19" font-size="16" textLength="13.4" lengthAdjust="spacingAndGlyphs">42</text><text x="1075.5" y="863.98" font-size="16" textLength="13.3" lengthAdjust="spacingAndGlyphs">43</text><text x="647.8" y="853.17" font-size="16" textLength="13.4" lengthAdjust="spacingAndGlyphs">44</text><text x="1075.5" y="842.97" font-size="16" textLength="13.3" lengthAdjust="spacingAndGlyphs">45</text><text x="647.8" y="832.16" font-size="16" textLength="13.4" lengthAdjust="spacingAndGlyphs">46</text><text x="1075.5" y="821.95" font-size="16" textLength="13.3" lengthAdjust="spacingAndGlyphs">47</text><text x="647.8" y="811.15" font-size="16" textLength="13.4" lengthAdjust="spacingAndGlyphs">48</text><text x="1075.5" y="800.94" font-size="16" textLength="13.3" lengthAdjust="spacingAndGlyphs">49</text><text x="647.8" y="790.13" font-size="16" textLength="13.4" lengthAdjust="spacingAndGlyphs">50</text><text x="1075.5" y="779.93" font-size="16" textLength="13.3" lengthAdjust="spacingAndGlyphs">51</text><text x="647.8" y="769.12" font-size="16" textLength="13.4" lengthAdjust="spacingAndGlyphs">52</text><text x="1075.5" y="758.92" font-size="16" textLength="13.3" lengthAdjust="spacingAndGlyphs">53</text><text x="647.8" y="748.11" font-size="16" textLength="13.4" lengthAdjust="spacingAndGlyphs">54</text><text x="1075.5" y="737.9" font-size="16" textLength="13.3" lengthAdjust="spacingAndGlyphs">55</text><text x="647.8" y="727.1" font-size="16" textLength="13.4" lengthAdjust="spacingAndGlyphs">56</text><text x="1075.5" y="716.89" font-size="16" textLength="13.3" lengthAdjust="spacingAndGlyphs">57</text><text x="647.8" y="706.08" font-size="16" textLength="13.4" lengthAdjust="spacingAndGlyphs">58</text><text x="1075.5" y="695.88" font-size="16" textLength="13.3" lengthAdjust="spacingAndGlyphs">59</text><text x="647.8" y="685.07" font-size="16" textLength="13.4" lengthAdjust="spacingAndGlyphs">60</text><text x="1075.5" y="674.87" font-size="16" textLength="13.3" lengthAdjust="spacingAndGlyphs">61</text><text x="647.8" y="664.06" font-size="16" textLength="13.4" lengthAdjust="spacingAndGlyphs">62</text><text x="1075.5" y="653.85" font-size="16" textLength="13.3" lengthAdjust="spacingAndGlyphs">63</text><text x="647.8" y="643.05" font-size="16" textLength="13.4" lengthAdjust="spacingAndGlyphs">64</text><text x="1075.5" y="632.84" font-size="16" textLength="13.3" lengthAdjust="spacingAndGlyphs">65</text><text x="647.8" y="622.03" font-size="16" textLength="13.4" lengthAdjust="spacingAndGlyphs">66</text><text x="1075.5" y="611.83" font-size="16" textLength="13.3" lengthAdjust="spacingAndGlyphs">67</text><text x="647.8" y="601.02" font-size="16" textLength="13.4" lengthAdjust="spacingAndGlyphs">68</text><text x="1075.5" y="590.81" font-size="16" textLength="13.3" lengthAdjust="spacingAndGlyphs">69</text><text x="647.8" y="580.01" font-size="16" textLength="13.4" lengthAdjust="spacingAndGlyphs">70</text><text x="1075.5" y="569.8" font-size="16" textLength="13.3" lengthAdjust="spacingAndGlyphs">71</text><text x="647.8" y="559" font-size="16" textLength="13.4" lengthAdjust="spacingAndGlyphs">72</text><text x="1075.5" y="548.79" font-size="16" textLength="13.3" lengthAdjust="spacingAndGlyphs">73</text><text x="647.8" y="537.98" font-size="16" textLength="13.4" lengthAdjust="spacingAndGlyphs">74</text><text x="1075.5" y="527.78" font-size="16" textLength="13.3" lengthAdjust="spacingAndGlyphs">75</text><text x="647.8" y="516.97" font-size="16" textLength="13.4" lengthAdjust="spacingAndGlyphs">76</text><text x="1075.5" y="506.76" font-size="16" textLength="13.3" lengthAdjust="spacingAndGlyphs">77</text><text x="647.8" y="495.96" font-size="16" textLength="13.4" lengthAdjust="spacingAndGlyphs">78</text><text x="1075.5" y="485.75" font-size="16" textLength="13.3" lengthAdjust="spacingAndGlyphs">79</text><text x="647.8" y="474.94" font-size="16" textLength="13.4" lengthAdjust="spacingAndGlyphs">80</text><text x="1075.5" y="464.74" font-size="16" textLength="13.3" lengthAdjust="spacingAndGlyphs">81</text><text x="647.8" y="453.93" font-size="16" textLength="13.4" lengthAdjust="spacingAndGlyphs">82</text><text x="1075.5" y="443.73" font-size="16" textLength="13.3" lengthAdjust="spacingAndGlyphs">83</text><text x="647.8" y="432.92" font-size="16" textLength="13.4" lengthAdjust="spacingAndGlyphs">84</text><text x="1075.5" y="422.71" font-size="16" textLength="13.3" lengthAdjust="spacingAndGlyphs">85</text><text x="647.8" y="411.91" font-size="16" textLength="13.4" lengthAdjust="spacingAndGlyphs">86</text><text x="1075.5" y="401.7" font-size="16" textLength="13.3" lengthAdjust="spacingAndGlyphs">87</text><text x="647.8" y="390.89" font-size="16" textLength="13.4" lengthAdjust="spacingAndGlyphs">88</text><text x="1075.5" y="380.69" font-size="16" textLength="13.3" lengthAdjust="spacingAndGlyphs">89</text><text x="647.8" y="369.88" font-size="16" textLength="13.4" lengthAdjust="spacingAndGlyphs">90</text><text x="1075.5" y="359.67" font-size="16" textLength="13.3" lengthAdjust="spacingAndGlyphs">91</text><text x="647.8" y="348.87" font-size="16" textLength="13.4" lengthAdjust="spacingAndGlyphs">92</text><text x="1075.5" y="338.66" font-size="16" textLength="13.3" lengthAdjust="spacingAndGlyphs">93</text><text x="647.8" y="327.86" font-size="16" textLength="13.4" lengthAdjust="spacingAndGlyphs">94</text><text x="1075.5" y="317.65" font-size="16" textLength="13.3" lengthAdjust="spacingAndGlyphs">95</text><text x="647.8" y="306.84" font-size="16" textLength="13.4" lengthAdjust="spacingAndGlyphs">96</text><text x="1075.5" y="296.64" font-size="16" textLength="13.3" lengthAdjust="spacingAndGlyphs">97</text><text x="647.8" y="285.83" font-size="16" textLength="13.4" lengthAdjust="spacingAndGlyphs">98</text><text x="1075.5" y="275.62" font-size="16" textLength="13.3" lengthAdjust="spacingAndGlyphs">99</text><text x="643.9" y="264.82" font-size="16" textLength="20.1" lengthAdjust="spacingAndGlyphs">100</text><text x="1075.5" y="254.61" font-size="16" textLength="19.95" lengthAdjust="spacingAndGlyphs">101</text><text x="643.9" y="243.8" font-size="16" textLength="20.1" lengthAdjust="spacingAndGlyphs">102</text><text x="1075.5" y="233.6" font-size="16" textLength="19.95" lengthAdjust="spacingAndGlyphs">103</text><text x="643.9" y="222.79" font-size="16" textLength="20.1" lengthAdjust="spacingAndGlyphs">104</text><text x="1075.5" y="212.58" font-size="16" textLength="19.95" lengthAdjust="spacingAndGlyphs">105</text><text x="643.9" y="201.78" font-size="16" textLength="20.1" lengthAdjust="spacingAndGlyphs">106</text><text x="1075.5" y="191.57" font-size="16" textLength="19.95" lengthAdjust="spacingAndGlyphs">107</text><text x="643.9" y="180.77" font-size="16" textLength="20.1" lengthAdjust="spacingAndGlyphs">108</text><text x="1075.5" y="170.56" font-size="16" textLength="19.95" lengthAdjust="spacingAndGlyphs">109</text><text x="643.9" y="159.75" font-size="16" textLength="20.1" lengthAdjust="spacingAndGlyphs">110</text></g>
<text class="ss" x="147.9" y="889.9" font-size="16" fill="#333" textLength="265.3" lengthAdjust="spacingAndGlyphs">Повторять 2 п. выделенного фрагмента,</text>
<text class="ss" x="147.9" y="909.55" font-size="16" fill="#333" textLength="238.6" lengthAdjust="spacingAndGlyphs">в начале и в конце ряда вязать кром.</text>
<text class="ss" x="147.9" y="929.2" font-size="16" fill="#333" textLength="270.4" lengthAdjust="spacingAndGlyphs">После того, как все ряды схемы связаны,</text>
<text class="ss" x="147.9" y="948.85" font-size="16" fill="#333" textLength="283.1" lengthAdjust="spacingAndGlyphs">продолжить вязать белой нитью, повторяя</text>
<text class="ss" x="147.9" y="968.5" font-size="16" fill="#333" textLength="93.8" lengthAdjust="spacingAndGlyphs">последние 4 р.</text>
<text class="sf" x="148.2" y="1027.3" font-size="20.8" fill="#2068a8" stroke="#2068a8" stroke-width="0.6" textLength="312" lengthAdjust="spacingAndGlyphs">УСЛОВНЫЕ ОБОЗНАЧЕНИЯ</text>
<rect x="149" y="1035.3" width="21.7" height="14.9" fill="#fff" stroke="#262626" stroke-width="1.4"/><path d="M153.4 1043h12.4M159.6 1038.8v8.4" stroke="#111" stroke-width="2.6"/><rect x="149" y="1076.3" width="21.7" height="14.9" fill="#fff" stroke="#262626" stroke-width="1.4"/><rect x="149" y="1100.1" width="21.7" height="14.9" fill="#fff" stroke="#262626" stroke-width="1.4"/><path d="M153.3 1107.4h12.5" stroke="#111" stroke-width="2.8"/><rect x="148.8" y="1123.7" width="22.1" height="15.3" fill="#fff" stroke="#444" stroke-width="1"/><path d="M150 1124.5L169.8 1138.6M159.6 1131.3L150 1138.6" stroke="#222" stroke-width="0.9" fill="none"/><rect x="148.8" y="1184.5" width="22.1" height="15.3" fill="#fff" stroke="#444" stroke-width="1"/><ellipse cx="159.6" cy="1192.2" rx="9.3" ry="5.2" fill="none" stroke="#222" stroke-width="0.9"/><rect x="149" y="1216.2" width="21.7" height="15.8" fill="#ffffff" stroke="#262626" stroke-width="1.4"/><rect x="149" y="1239.8" width="21.7" height="15.8" fill="#d5c8b4" stroke="#262626" stroke-width="1.4"/><rect x="149" y="1263.3" width="21.7" height="15.8" fill="#50a0dc" stroke="#262626" stroke-width="1.4"/><rect x="149" y="1287" width="21.7" height="15.8" fill="#f5a5cd" stroke="#262626" stroke-width="1.4"/><rect x="149" y="1310.4" width="21.7" height="15.8" fill="#f8c8c4" stroke="#262626" stroke-width="1.4"/><rect x="149" y="1334.1" width="21.7" height="15.8" fill="#c3d2ee" stroke="#262626" stroke-width="1.4"/>
<text class="sf" x="176.9" y="1050.9" font-size="18" fill="#1a1a1a" stroke="#1a1a1a" stroke-width="0.25" textLength="391.6" lengthAdjust="spacingAndGlyphs">= кром.: вязать 1-ю и последнюю п. лицевыми</text>
<text class="sf" x="194" y="1069" font-size="18" fill="#1a1a1a" stroke="#1a1a1a" stroke-width="0.25" textLength="349.3" lengthAdjust="spacingAndGlyphs">в лиц. рядах, изнаночными – в изн. рядах</text>
<text class="sf" x="176.9" y="1092.1" font-size="18" fill="#1a1a1a" stroke="#1a1a1a" stroke-width="0.25" textLength="405.2" lengthAdjust="spacingAndGlyphs">= лиц. ряды – лиц. петли, изн. ряды – изн. петли</text>
<text class="sf" x="176.9" y="1115.9" font-size="18" fill="#1a1a1a" stroke="#1a1a1a" stroke-width="0.25" textLength="405.2" lengthAdjust="spacingAndGlyphs">= лиц. ряды – изн. петли, изн. ряды – лиц. петли</text>
<text class="sf" x="176.9" y="1139.5" font-size="18" fill="#1a1a1a" stroke="#1a1a1a" stroke-width="0.25" textLength="389.7" lengthAdjust="spacingAndGlyphs">= 2 п. провязать вместе с наклоном влево: 1 п.</text>
<text class="sf" x="194" y="1157.7" font-size="18" fill="#1a1a1a" stroke="#1a1a1a" stroke-width="0.25" textLength="388.1" lengthAdjust="spacingAndGlyphs">снять, как при вязании лицевой, 1 лиц., затем</text>
<text class="sf" x="194" y="1174.6" font-size="18" fill="#1a1a1a" stroke="#1a1a1a" stroke-width="0.25" textLength="289.1" lengthAdjust="spacingAndGlyphs">протянуть ее через снятую петлю</text>
<text class="sf" x="176.9" y="1200.6" font-size="18" fill="#1a1a1a" stroke="#1a1a1a" stroke-width="0.25" textLength="81.1" lengthAdjust="spacingAndGlyphs">= 1 накид</text>
<text class="sf" x="176.9" y="1232.5" font-size="18" fill="#1a1a1a" stroke="#1a1a1a" stroke-width="0.25" textLength="111.1" lengthAdjust="spacingAndGlyphs">= белая нить</text>
<text class="sf" x="176.9" y="1256.2" font-size="18" fill="#1a1a1a" stroke="#1a1a1a" stroke-width="0.25" textLength="134.3" lengthAdjust="spacingAndGlyphs">= бежевая нить</text>
<text class="sf" x="176.9" y="1279.8" font-size="18" fill="#1a1a1a" stroke="#1a1a1a" stroke-width="0.25" textLength="112" lengthAdjust="spacingAndGlyphs">= синяя нить</text>
<text class="sf" x="176.9" y="1303.4" font-size="18" fill="#1a1a1a" stroke="#1a1a1a" stroke-width="0.25" textLength="213.2" lengthAdjust="spacingAndGlyphs">= светло-сиреневая нить</text>
<text class="sf" x="176.9" y="1327" font-size="18" fill="#1a1a1a" stroke="#1a1a1a" stroke-width="0.25" textLength="196" lengthAdjust="spacingAndGlyphs">= бледно-розовая нить</text>
<text class="sf" x="176.9" y="1350.6" font-size="18" fill="#1a1a1a" stroke="#1a1a1a" stroke-width="0.25" textLength="128" lengthAdjust="spacingAndGlyphs">= голубая нить</text>
<text class="sf" x="59" y="1565.3" font-size="18" fill="#1a1a1a" stroke="#1a1a1a" stroke-width="0.1" textLength="52" lengthAdjust="spacingAndGlyphs">3/2025</text>
<text class="sf" x="482.5" y="1562.4" font-size="18.5" font-style="italic" fill="#111" stroke="#111" stroke-width="0.3" textLength="164.7" lengthAdjust="spacingAndGlyphs">Моё любимое хобби</text>
<circle cx="664" cy="1556.6" r="10.8" fill="#151515"/>
<text class="sf" x="664" y="1561" font-size="12" fill="#fff" text-anchor="middle">46</text>
<text class="sf" x="680.3" y="1562.4" font-size="18.5" font-style="italic" fill="#111" stroke="#111" stroke-width="0.7" textLength="61.5" lengthAdjust="spacingAndGlyphs">Knitting</text>
</svg></body></html>
